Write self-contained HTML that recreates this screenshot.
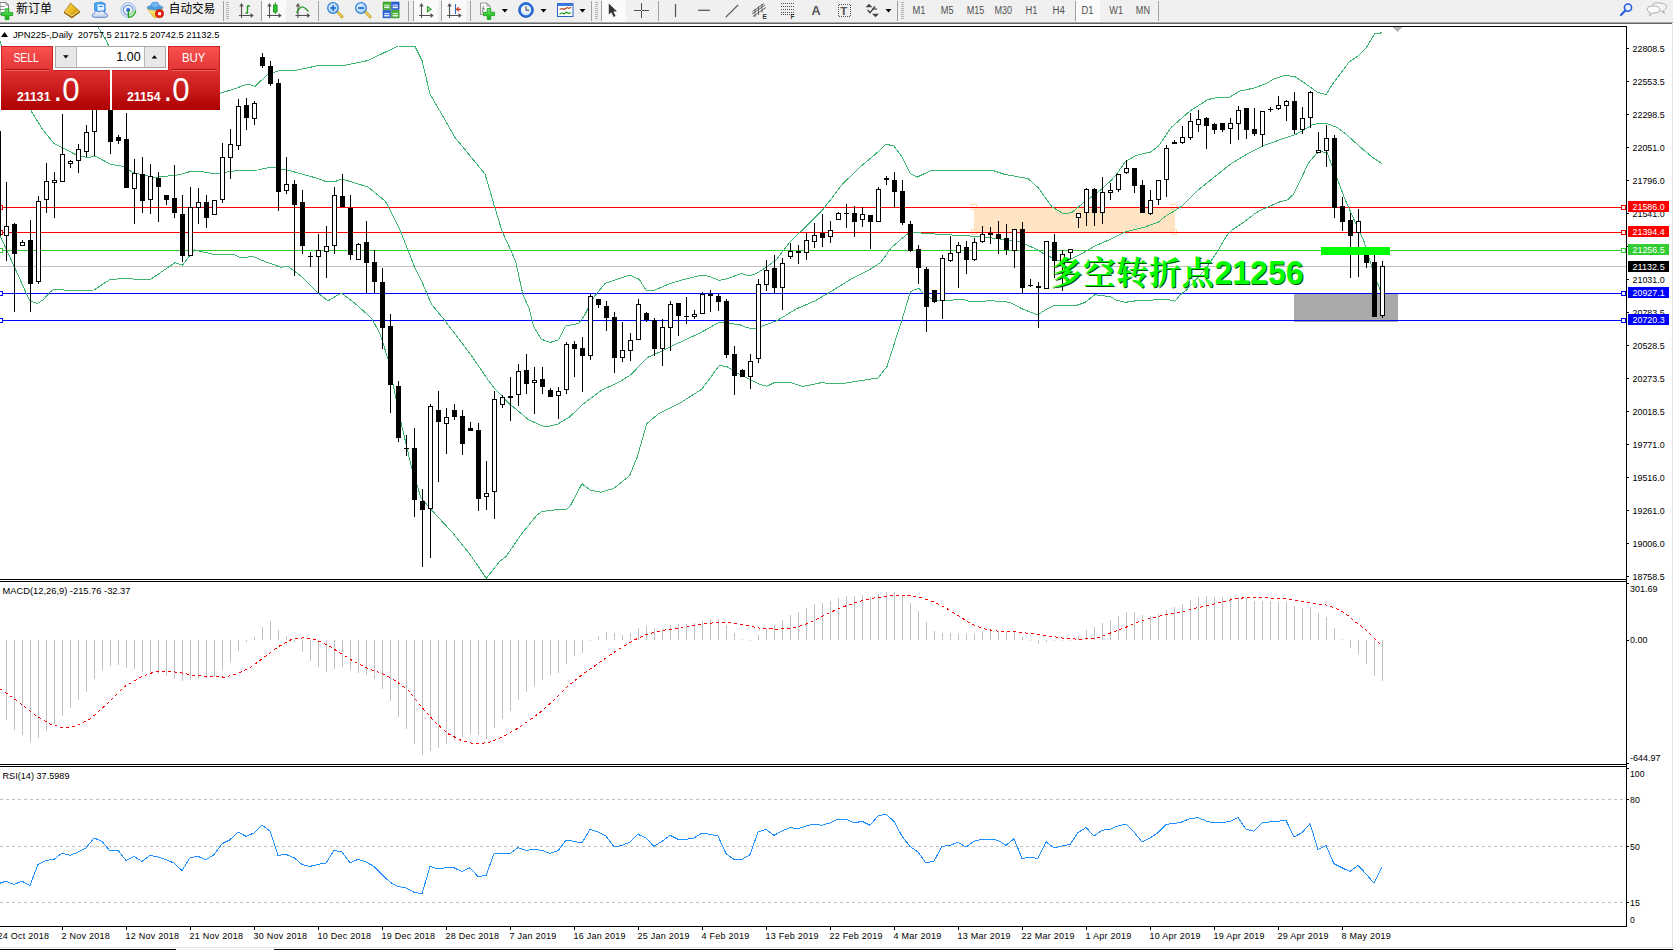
<!DOCTYPE html>
<html lang="zh"><head><meta charset="utf-8"><title>JPN225 Daily</title>
<style>html,body{margin:0;padding:0;background:#fff}body{width:1673px;height:950px;overflow:hidden;position:relative;font-family:"Liberation Sans","Noto Sans CJK SC",sans-serif}svg{position:absolute;left:0;top:0;display:block}text{font-family:"Liberation Sans","Noto Sans CJK SC",sans-serif;white-space:pre}.note{font-family:"Liberation Sans","Noto Serif CJK SC",serif;font-weight:bold}</style>
</head><body>
<svg width="1673" height="950" viewBox="0 0 1673 950">
<defs>
<linearGradient id="gTop" x1="0" y1="0" x2="0" y2="1"><stop offset="0" stop-color="#fa5252"/><stop offset="1" stop-color="#e23434"/></linearGradient>
<linearGradient id="gBot" x1="0" y1="0" x2="0" y2="1"><stop offset="0" stop-color="#e03232"/><stop offset="0.5" stop-color="#c81a1a"/><stop offset="1" stop-color="#ae0000"/></linearGradient>
<linearGradient id="gBtn" x1="0" y1="0" x2="0" y2="1"><stop offset="0" stop-color="#f4f4f4"/><stop offset="1" stop-color="#dcdcdc"/></linearGradient>
<clipPath id="cMain"><rect x="0" y="27" width="1626" height="552"/></clipPath>
<pattern id="chk" width="2" height="2" patternUnits="userSpaceOnUse"><rect width="2" height="2" fill="#f6f6f6"/><rect width="1" height="1" fill="#fff"/><rect x="1" y="1" width="1" height="1" fill="#fff"/></pattern>
</defs>
<rect x="0" y="0" width="1673" height="950" fill="#fff"/>
<g shape-rendering="crispEdges">
<rect x="974" y="207" width="201" height="26" fill="#FFE4C4"/>
<rect x="1294" y="293" width="104" height="29" fill="#A9A9A9"/>
<rect x="971.5" y="204.5" width="5" height="5" fill="none" stroke="#FFDAB0" stroke-width="1"/>
<rect x="971.5" y="229.5" width="5" height="5" fill="none" stroke="#FFDAB0" stroke-width="1"/>
<rect x="1171.5" y="204.5" width="5" height="5" fill="none" stroke="#FFDAB0" stroke-width="1"/>
<rect x="1171.5" y="229.5" width="5" height="5" fill="none" stroke="#FFDAB0" stroke-width="1"/>
<rect x="1073" y="220" width="2" height="2" fill="#fff"/>
<rect x="0" y="266" width="1626" height="1" fill="#C0C0C0"/>
<rect x="0" y="207" width="1626" height="1" fill="#FF0000"/>
<rect x="-2.5" y="205.5" width="5" height="4" fill="#fff" stroke="#FF0000" stroke-width="1"/>
<rect x="1621.5" y="205.5" width="4" height="4" fill="#fff" stroke="#FF0000" stroke-width="1"/>
<rect x="0" y="232" width="1626" height="1" fill="#FF0000"/>
<rect x="-2.5" y="230.5" width="5" height="4" fill="#fff" stroke="#FF0000" stroke-width="1"/>
<rect x="1621.5" y="230.5" width="4" height="4" fill="#fff" stroke="#FF0000" stroke-width="1"/>
<rect x="0" y="250" width="1626" height="1" fill="#32CD32"/>
<rect x="-2.5" y="248.5" width="5" height="4" fill="#fff" stroke="#32CD32" stroke-width="1"/>
<rect x="1621.5" y="248.5" width="4" height="4" fill="#fff" stroke="#32CD32" stroke-width="1"/>
<rect x="0" y="293" width="1626" height="1" fill="#0000FF"/>
<rect x="-2.5" y="291.5" width="5" height="4" fill="#fff" stroke="#0000FF" stroke-width="1"/>
<rect x="1621.5" y="291.5" width="4" height="4" fill="#fff" stroke="#0000FF" stroke-width="1"/>
<rect x="0" y="320" width="1626" height="1" fill="#0000FF"/>
<rect x="-2.5" y="318.5" width="5" height="4" fill="#fff" stroke="#0000FF" stroke-width="1"/>
<rect x="1621.5" y="318.5" width="4" height="4" fill="#fff" stroke="#0000FF" stroke-width="1"/>
<g clip-path="url(#cMain)">
<polyline points="98.0,27.0 106.0,40.0 115.0,60.0 130.0,85.0 150.0,100.0 175.0,102.0 200.0,98.0 221.0,93.0 234.0,89.0 248.0,84.0 255.0,86.5 268.0,74.0 278.0,71.0 295.0,70.5 321.0,65.0 341.0,66.0 368.0,60.5 398.0,46.0 415.0,46.5 422.0,60.5 430.0,94.0 445.0,120.0 455.0,137.5 485.0,174.0 495.0,208.0 502.0,231.0 515.5,261.0 523.0,295.0 529.0,308.0 533.6,326.5 541.0,339.0 550.0,342.5 558.6,339.8 565.5,326.2 578.7,323.4 584.4,315.8 593.9,296.9 605.3,283.2 618.5,278.8 629.9,275.1 639.4,279.4 646.0,290.2 654.5,290.2 669.7,283.6 684.9,279.2 701.9,275.1 709.5,276.4 719.0,280.4 726.6,278.8 741.7,273.5 749.3,276.0 756.9,273.2 764.5,268.4 776.0,260.0 790.0,242.0 806.5,226.0 823.0,209.5 842.0,184.7 858.5,168.3 875.0,154.6 886.0,144.2 894.0,146.0 902.3,157.4 910.5,173.8 917.4,177.1 929.7,171.0 951.6,170.2 992.0,170.2 1005.0,174.5 1028.0,178.5 1038.5,188.0 1052.0,207.0 1063.5,213.8 1071.5,212.7 1082.0,204.0 1097.0,193.0 1110.0,181.5 1115.8,175.3 1125.5,161.5 1136.0,155.5 1150.5,152.0 1158.5,146.0 1171.2,127.4 1176.6,122.7 1190.0,111.0 1207.5,99.7 1218.5,97.2 1229.0,97.5 1240.0,91.0 1254.4,88.0 1267.4,83.0 1272.3,79.6 1285.0,75.5 1294.6,76.5 1304.2,82.8 1318.0,92.6 1326.3,94.5 1332.0,85.0 1336.0,79.6 1349.0,62.0 1358.5,55.7 1366.4,47.7 1374.4,34.0 1382.4,32.7" fill="none" stroke="#3CB371" stroke-width="1"/>
<polyline points="0.0,41.6 10.0,64.0 20.0,87.0 32.0,112.4 43.0,130.0 54.0,143.5 62.0,147.5 77.4,155.5 87.0,157.5 96.0,156.5 110.5,164.2 123.8,166.5 133.0,172.8 155.0,177.5 180.0,174.7 191.0,171.2 200.0,171.2 214.0,173.8 234.0,171.0 257.7,170.0 271.0,167.2 288.0,170.2 314.6,177.6 326.0,181.5 335.0,181.6 342.0,179.0 368.0,187.0 385.0,201.0 388.0,205.8 400.0,230.0 415.0,268.0 421.0,280.0 431.8,304.8 443.2,318.5 458.4,338.3 471.6,356.0 487.9,379.6 493.7,387.4 508.5,403.2 512.6,406.3 528.8,420.0 542.6,426.0 546.8,426.7 557.5,424.2 569.7,417.0 582.0,404.8 601.5,390.2 620.0,381.7 631.0,374.5 647.5,357.5 664.2,350.0 673.5,345.2 683.1,340.9 701.0,332.5 719.2,322.2 727.0,323.0 740.0,324.8 745.5,327.2 753.0,329.0 764.5,325.3 776.0,321.0 784.2,316.3 795.6,309.3 814.7,301.0 831.0,291.5 850.3,279.5 869.5,269.6 880.4,262.7 891.4,247.7 902.3,238.1 910.5,231.8 924.2,233.4 951.6,235.0 979.0,236.5 999.0,238.8 1018.4,241.5 1034.0,248.0 1045.0,254.5 1058.0,260.5 1069.0,260.0 1080.0,254.5 1096.0,245.5 1110.0,239.5 1125.5,231.8 1145.0,226.9 1158.6,222.0 1166.3,215.5 1174.2,211.0 1182.6,205.7 1198.9,189.4 1215.2,176.3 1231.6,163.3 1247.9,153.5 1264.2,145.3 1280.5,139.6 1296.8,133.9 1306.6,128.2 1313.1,124.5 1321.3,123.3 1327.8,123.8 1337.6,127.7 1345.7,133.9 1362.0,148.6 1371.8,156.8 1382.0,163.8" fill="none" stroke="#3CB371" stroke-width="1"/>
<polyline points="0.0,236.0 6.7,250.0 16.7,272.0 29.8,301.0 37.6,303.5 43.5,299.5 50.0,292.2 54.2,289.2 66.0,290.2 77.0,290.4 93.9,290.0 110.5,279.2 127.0,278.7 150.0,279.8 175.0,262.6 182.4,265.2 194.3,249.8 214.2,254.6 234.3,254.6 241.0,258.0 252.7,256.3 264.4,261.3 281.2,267.3 287.9,266.3 301.3,276.4 318.0,293.1 328.0,300.8 341.4,293.1 354.8,303.2 371.5,318.2 380.0,333.7 388.0,359.0 399.3,415.0 411.4,467.0 421.0,497.9 432.0,510.5 452.5,532.7 470.9,555.5 486.2,578.4 500.0,561.0 505.6,557.0 522.5,532.7 537.0,515.0 542.0,511.5 558.6,509.5 566.3,509.5 570.0,506.3 582.0,483.7 590.0,490.0 601.0,492.2 613.7,488.4 629.5,475.8 637.3,456.8 646.8,423.7 657.9,414.2 680.0,403.1 702.1,388.9 719.4,365.3 727.3,366.8 740.0,374.7 752.6,381.0 760.0,384.5 767.0,386.2 774.0,382.8 790.5,382.6 803.0,386.5 821.0,382.7 840.0,384.0 855.0,381.5 878.0,378.0 887.0,366.5 894.4,343.3 901.0,323.0 910.5,291.5 918.7,288.2 924.2,294.2 935.1,301.0 951.6,300.2 962.5,299.1 969.0,301.5 992.6,300.8 1009.5,302.2 1023.5,309.5 1037.9,315.0 1045.0,310.2 1054.5,305.2 1077.0,305.2 1085.0,302.5 1094.8,294.7 1100.2,295.6 1110.0,296.4 1115.8,299.9 1125.5,302.3 1135.2,300.9 1154.7,299.9 1166.4,299.0 1175.0,301.2 1180.0,295.1 1186.2,290.2 1205.3,269.5 1218.0,250.4 1226.5,236.0 1231.6,230.2 1244.0,222.0 1254.4,213.9 1260.0,210.5 1269.1,206.5 1280.5,201.6 1287.5,199.8 1293.5,194.3 1300.0,181.2 1308.2,163.3 1316.4,153.5 1321.3,151.9 1327.0,152.2 1331.0,163.3 1337.6,179.6 1344.0,197.0 1353.9,219.2 1363.7,240.5 1372.4,268.9 1380.2,290.5" fill="none" stroke="#3CB371" stroke-width="1"/>
<rect x="-2" y="131" width="1" height="105" fill="#000"/>
<rect x="-4" y="131" width="5" height="105" fill="#000"/>
<rect x="6" y="182" width="1" height="79" fill="#000"/>
<rect x="4" y="226" width="5" height="10" fill="#000"/>
<rect x="5" y="227" width="3" height="8" fill="#fff"/>
<rect x="14" y="223" width="1" height="89" fill="#000"/>
<rect x="12" y="224" width="5" height="30" fill="#000"/>
<rect x="22" y="240" width="1" height="6" fill="#000"/>
<rect x="20" y="242" width="5" height="4" fill="#000"/>
<rect x="21" y="243" width="3" height="2" fill="#fff"/>
<rect x="30" y="220" width="1" height="92" fill="#000"/>
<rect x="28" y="240" width="5" height="44" fill="#000"/>
<rect x="38" y="196" width="1" height="88" fill="#000"/>
<rect x="36" y="201" width="5" height="81" fill="#000"/>
<rect x="37" y="202" width="3" height="79" fill="#fff"/>
<rect x="46" y="163" width="1" height="50" fill="#000"/>
<rect x="44" y="181" width="5" height="19" fill="#000"/>
<rect x="45" y="182" width="3" height="17" fill="#fff"/>
<rect x="54" y="172" width="1" height="46" fill="#000"/>
<rect x="52" y="180" width="5" height="3" fill="#000"/>
<rect x="53" y="181" width="3" height="1" fill="#fff"/>
<rect x="62" y="114" width="1" height="68" fill="#000"/>
<rect x="60" y="154" width="5" height="28" fill="#000"/>
<rect x="61" y="155" width="3" height="26" fill="#fff"/>
<rect x="70" y="160" width="1" height="8" fill="#000"/>
<rect x="68" y="161" width="5" height="3" fill="#000"/>
<rect x="69" y="162" width="3" height="1" fill="#fff"/>
<rect x="78" y="144" width="1" height="29" fill="#000"/>
<rect x="76" y="149" width="5" height="12" fill="#000"/>
<rect x="77" y="150" width="3" height="10" fill="#fff"/>
<rect x="86" y="125" width="1" height="32" fill="#000"/>
<rect x="84" y="132" width="5" height="20" fill="#000"/>
<rect x="85" y="133" width="3" height="18" fill="#fff"/>
<rect x="94" y="98" width="1" height="58" fill="#000"/>
<rect x="92" y="104" width="5" height="28" fill="#000"/>
<rect x="93" y="105" width="3" height="26" fill="#fff"/>
<rect x="102" y="84" width="1" height="24" fill="#000"/>
<rect x="100" y="88" width="5" height="16" fill="#000"/>
<rect x="101" y="89" width="3" height="14" fill="#fff"/>
<rect x="110" y="86" width="1" height="68" fill="#000"/>
<rect x="108" y="90" width="5" height="52" fill="#000"/>
<rect x="118" y="135" width="1" height="9" fill="#000"/>
<rect x="116" y="137" width="5" height="4" fill="#000"/>
<rect x="126" y="113" width="1" height="75" fill="#000"/>
<rect x="124" y="139" width="5" height="49" fill="#000"/>
<rect x="134" y="159" width="1" height="65" fill="#000"/>
<rect x="132" y="173" width="5" height="16" fill="#000"/>
<rect x="133" y="174" width="3" height="14" fill="#fff"/>
<rect x="142" y="157" width="1" height="56" fill="#000"/>
<rect x="140" y="174" width="5" height="27" fill="#000"/>
<rect x="150" y="164" width="1" height="50" fill="#000"/>
<rect x="148" y="176" width="5" height="24" fill="#000"/>
<rect x="149" y="177" width="3" height="22" fill="#fff"/>
<rect x="158" y="172" width="1" height="50" fill="#000"/>
<rect x="156" y="178" width="5" height="9" fill="#000"/>
<rect x="166" y="195" width="1" height="10" fill="#000"/>
<rect x="164" y="195" width="5" height="5" fill="#000"/>
<rect x="174" y="165" width="1" height="53" fill="#000"/>
<rect x="172" y="198" width="5" height="15" fill="#000"/>
<rect x="182" y="195" width="1" height="67" fill="#000"/>
<rect x="180" y="214" width="5" height="42" fill="#000"/>
<rect x="190" y="187" width="1" height="69" fill="#000"/>
<rect x="188" y="207" width="5" height="49" fill="#000"/>
<rect x="189" y="208" width="3" height="47" fill="#fff"/>
<rect x="198" y="188" width="1" height="36" fill="#000"/>
<rect x="196" y="202" width="5" height="6" fill="#000"/>
<rect x="197" y="203" width="3" height="4" fill="#fff"/>
<rect x="206" y="195" width="1" height="33" fill="#000"/>
<rect x="204" y="202" width="5" height="16" fill="#000"/>
<rect x="214" y="200" width="1" height="15" fill="#000"/>
<rect x="212" y="200" width="5" height="15" fill="#000"/>
<rect x="213" y="201" width="3" height="13" fill="#fff"/>
<rect x="222" y="143" width="1" height="60" fill="#000"/>
<rect x="220" y="157" width="5" height="43" fill="#000"/>
<rect x="221" y="158" width="3" height="41" fill="#fff"/>
<rect x="230" y="129" width="1" height="50" fill="#000"/>
<rect x="228" y="144" width="5" height="14" fill="#000"/>
<rect x="229" y="145" width="3" height="12" fill="#fff"/>
<rect x="238" y="99" width="1" height="51" fill="#000"/>
<rect x="236" y="106" width="5" height="40" fill="#000"/>
<rect x="237" y="107" width="3" height="38" fill="#fff"/>
<rect x="246" y="98" width="1" height="32" fill="#000"/>
<rect x="244" y="105" width="5" height="13" fill="#000"/>
<rect x="254" y="101" width="1" height="24" fill="#000"/>
<rect x="252" y="103" width="5" height="16" fill="#000"/>
<rect x="253" y="104" width="3" height="14" fill="#fff"/>
<rect x="262" y="53" width="1" height="15" fill="#000"/>
<rect x="260" y="57" width="5" height="9" fill="#000"/>
<rect x="270" y="61" width="1" height="25" fill="#000"/>
<rect x="268" y="66" width="5" height="18" fill="#000"/>
<rect x="278" y="79" width="1" height="132" fill="#000"/>
<rect x="276" y="83" width="5" height="109" fill="#000"/>
<rect x="286" y="157" width="1" height="37" fill="#000"/>
<rect x="284" y="184" width="5" height="7" fill="#000"/>
<rect x="285" y="185" width="3" height="5" fill="#fff"/>
<rect x="294" y="180" width="1" height="96" fill="#000"/>
<rect x="292" y="184" width="5" height="21" fill="#000"/>
<rect x="302" y="190" width="1" height="64" fill="#000"/>
<rect x="300" y="202" width="5" height="44" fill="#000"/>
<rect x="310" y="252" width="1" height="15" fill="#000"/>
<rect x="308" y="256" width="5" height="1" fill="#000"/>
<rect x="318" y="234" width="1" height="59" fill="#000"/>
<rect x="316" y="250" width="5" height="7" fill="#000"/>
<rect x="317" y="251" width="3" height="5" fill="#fff"/>
<rect x="326" y="226" width="1" height="52" fill="#000"/>
<rect x="324" y="246" width="5" height="6" fill="#000"/>
<rect x="325" y="247" width="3" height="4" fill="#fff"/>
<rect x="334" y="187" width="1" height="67" fill="#000"/>
<rect x="332" y="195" width="5" height="51" fill="#000"/>
<rect x="333" y="196" width="3" height="49" fill="#fff"/>
<rect x="342" y="174" width="1" height="33" fill="#000"/>
<rect x="340" y="196" width="5" height="11" fill="#000"/>
<rect x="350" y="195" width="1" height="65" fill="#000"/>
<rect x="348" y="208" width="5" height="47" fill="#000"/>
<rect x="358" y="243" width="1" height="17" fill="#000"/>
<rect x="356" y="244" width="5" height="16" fill="#000"/>
<rect x="357" y="245" width="3" height="14" fill="#fff"/>
<rect x="366" y="221" width="1" height="72" fill="#000"/>
<rect x="364" y="242" width="5" height="21" fill="#000"/>
<rect x="374" y="250" width="1" height="43" fill="#000"/>
<rect x="372" y="262" width="5" height="20" fill="#000"/>
<rect x="382" y="268" width="1" height="81" fill="#000"/>
<rect x="380" y="282" width="5" height="46" fill="#000"/>
<rect x="390" y="314" width="1" height="99" fill="#000"/>
<rect x="388" y="326" width="5" height="59" fill="#000"/>
<rect x="398" y="381" width="1" height="61" fill="#000"/>
<rect x="396" y="386" width="5" height="52" fill="#000"/>
<rect x="406" y="435" width="1" height="21" fill="#000"/>
<rect x="404" y="448" width="5" height="1" fill="#000"/>
<rect x="414" y="428" width="1" height="89" fill="#000"/>
<rect x="412" y="448" width="5" height="52" fill="#000"/>
<rect x="422" y="489" width="1" height="78" fill="#000"/>
<rect x="420" y="501" width="5" height="9" fill="#000"/>
<rect x="430" y="404" width="1" height="154" fill="#000"/>
<rect x="428" y="406" width="5" height="103" fill="#000"/>
<rect x="429" y="407" width="3" height="101" fill="#fff"/>
<rect x="438" y="391" width="1" height="91" fill="#000"/>
<rect x="436" y="410" width="5" height="12" fill="#000"/>
<rect x="446" y="408" width="1" height="46" fill="#000"/>
<rect x="444" y="417" width="5" height="7" fill="#000"/>
<rect x="445" y="418" width="3" height="5" fill="#fff"/>
<rect x="454" y="404" width="1" height="16" fill="#000"/>
<rect x="452" y="410" width="5" height="7" fill="#000"/>
<rect x="462" y="410" width="1" height="45" fill="#000"/>
<rect x="460" y="416" width="5" height="28" fill="#000"/>
<rect x="470" y="422" width="1" height="9" fill="#000"/>
<rect x="468" y="428" width="5" height="3" fill="#000"/>
<rect x="478" y="423" width="1" height="88" fill="#000"/>
<rect x="476" y="430" width="5" height="69" fill="#000"/>
<rect x="486" y="461" width="1" height="49" fill="#000"/>
<rect x="484" y="493" width="5" height="4" fill="#000"/>
<rect x="485" y="494" width="3" height="2" fill="#fff"/>
<rect x="494" y="391" width="1" height="128" fill="#000"/>
<rect x="492" y="399" width="5" height="93" fill="#000"/>
<rect x="493" y="400" width="3" height="91" fill="#fff"/>
<rect x="502" y="395" width="1" height="13" fill="#000"/>
<rect x="500" y="397" width="5" height="8" fill="#000"/>
<rect x="501" y="398" width="3" height="6" fill="#fff"/>
<rect x="510" y="377" width="1" height="44" fill="#000"/>
<rect x="508" y="396" width="5" height="2" fill="#000"/>
<rect x="518" y="364" width="1" height="42" fill="#000"/>
<rect x="516" y="371" width="5" height="24" fill="#000"/>
<rect x="517" y="372" width="3" height="22" fill="#fff"/>
<rect x="526" y="354" width="1" height="40" fill="#000"/>
<rect x="524" y="370" width="5" height="14" fill="#000"/>
<rect x="534" y="367" width="1" height="47" fill="#000"/>
<rect x="532" y="380" width="5" height="3" fill="#000"/>
<rect x="533" y="381" width="3" height="1" fill="#fff"/>
<rect x="542" y="367" width="1" height="27" fill="#000"/>
<rect x="540" y="379" width="5" height="8" fill="#000"/>
<rect x="550" y="388" width="1" height="9" fill="#000"/>
<rect x="548" y="390" width="5" height="7" fill="#000"/>
<rect x="558" y="387" width="1" height="32" fill="#000"/>
<rect x="556" y="391" width="5" height="5" fill="#000"/>
<rect x="557" y="392" width="3" height="3" fill="#fff"/>
<rect x="566" y="342" width="1" height="52" fill="#000"/>
<rect x="564" y="344" width="5" height="46" fill="#000"/>
<rect x="565" y="345" width="3" height="44" fill="#fff"/>
<rect x="574" y="341" width="1" height="36" fill="#000"/>
<rect x="572" y="344" width="5" height="5" fill="#000"/>
<rect x="582" y="337" width="1" height="55" fill="#000"/>
<rect x="580" y="348" width="5" height="8" fill="#000"/>
<rect x="590" y="294" width="1" height="66" fill="#000"/>
<rect x="588" y="296" width="5" height="60" fill="#000"/>
<rect x="589" y="297" width="3" height="58" fill="#fff"/>
<rect x="598" y="299" width="1" height="9" fill="#000"/>
<rect x="596" y="299" width="5" height="6" fill="#000"/>
<rect x="606" y="301" width="1" height="30" fill="#000"/>
<rect x="604" y="306" width="5" height="12" fill="#000"/>
<rect x="614" y="312" width="1" height="61" fill="#000"/>
<rect x="612" y="317" width="5" height="41" fill="#000"/>
<rect x="622" y="322" width="1" height="40" fill="#000"/>
<rect x="620" y="350" width="5" height="8" fill="#000"/>
<rect x="621" y="351" width="3" height="6" fill="#fff"/>
<rect x="630" y="333" width="1" height="28" fill="#000"/>
<rect x="628" y="340" width="5" height="11" fill="#000"/>
<rect x="629" y="341" width="3" height="9" fill="#fff"/>
<rect x="638" y="299" width="1" height="41" fill="#000"/>
<rect x="636" y="304" width="5" height="36" fill="#000"/>
<rect x="637" y="305" width="3" height="34" fill="#fff"/>
<rect x="646" y="312" width="1" height="10" fill="#000"/>
<rect x="644" y="313" width="5" height="7" fill="#000"/>
<rect x="654" y="318" width="1" height="38" fill="#000"/>
<rect x="652" y="320" width="5" height="29" fill="#000"/>
<rect x="662" y="319" width="1" height="47" fill="#000"/>
<rect x="660" y="327" width="5" height="22" fill="#000"/>
<rect x="661" y="328" width="3" height="20" fill="#fff"/>
<rect x="670" y="301" width="1" height="50" fill="#000"/>
<rect x="668" y="304" width="5" height="24" fill="#000"/>
<rect x="669" y="305" width="3" height="22" fill="#fff"/>
<rect x="678" y="303" width="1" height="33" fill="#000"/>
<rect x="676" y="303" width="5" height="13" fill="#000"/>
<rect x="686" y="297" width="1" height="27" fill="#000"/>
<rect x="684" y="316" width="5" height="1" fill="#000"/>
<rect x="694" y="310" width="1" height="9" fill="#000"/>
<rect x="692" y="314" width="5" height="3" fill="#000"/>
<rect x="693" y="315" width="3" height="1" fill="#fff"/>
<rect x="702" y="292" width="1" height="22" fill="#000"/>
<rect x="700" y="294" width="5" height="20" fill="#000"/>
<rect x="701" y="295" width="3" height="18" fill="#fff"/>
<rect x="710" y="290" width="1" height="22" fill="#000"/>
<rect x="708" y="294" width="5" height="2" fill="#000"/>
<rect x="718" y="294" width="1" height="17" fill="#000"/>
<rect x="716" y="296" width="5" height="6" fill="#000"/>
<rect x="726" y="299" width="1" height="59" fill="#000"/>
<rect x="724" y="301" width="5" height="54" fill="#000"/>
<rect x="734" y="346" width="1" height="49" fill="#000"/>
<rect x="732" y="354" width="5" height="22" fill="#000"/>
<rect x="742" y="369" width="1" height="8" fill="#000"/>
<rect x="740" y="370" width="5" height="7" fill="#000"/>
<rect x="750" y="354" width="1" height="35" fill="#000"/>
<rect x="748" y="361" width="5" height="16" fill="#000"/>
<rect x="749" y="362" width="3" height="14" fill="#fff"/>
<rect x="758" y="279" width="1" height="84" fill="#000"/>
<rect x="756" y="284" width="5" height="75" fill="#000"/>
<rect x="757" y="285" width="3" height="73" fill="#fff"/>
<rect x="766" y="260" width="1" height="31" fill="#000"/>
<rect x="764" y="270" width="5" height="15" fill="#000"/>
<rect x="765" y="271" width="3" height="13" fill="#fff"/>
<rect x="774" y="255" width="1" height="39" fill="#000"/>
<rect x="772" y="268" width="5" height="20" fill="#000"/>
<rect x="782" y="258" width="1" height="52" fill="#000"/>
<rect x="780" y="263" width="5" height="25" fill="#000"/>
<rect x="781" y="264" width="3" height="23" fill="#fff"/>
<rect x="790" y="243" width="1" height="16" fill="#000"/>
<rect x="788" y="251" width="5" height="6" fill="#000"/>
<rect x="789" y="252" width="3" height="4" fill="#fff"/>
<rect x="798" y="245" width="1" height="19" fill="#000"/>
<rect x="796" y="251" width="5" height="2" fill="#000"/>
<rect x="806" y="233" width="1" height="27" fill="#000"/>
<rect x="804" y="240" width="5" height="13" fill="#000"/>
<rect x="805" y="241" width="3" height="11" fill="#fff"/>
<rect x="814" y="223" width="1" height="25" fill="#000"/>
<rect x="812" y="235" width="5" height="7" fill="#000"/>
<rect x="813" y="236" width="3" height="5" fill="#fff"/>
<rect x="822" y="214" width="1" height="33" fill="#000"/>
<rect x="820" y="233" width="5" height="5" fill="#000"/>
<rect x="830" y="221" width="1" height="22" fill="#000"/>
<rect x="828" y="230" width="5" height="7" fill="#000"/>
<rect x="829" y="231" width="3" height="5" fill="#fff"/>
<rect x="838" y="212" width="1" height="8" fill="#000"/>
<rect x="836" y="213" width="5" height="7" fill="#000"/>
<rect x="837" y="214" width="3" height="5" fill="#fff"/>
<rect x="846" y="204" width="1" height="24" fill="#000"/>
<rect x="844" y="213" width="5" height="1" fill="#000"/>
<rect x="854" y="206" width="1" height="31" fill="#000"/>
<rect x="852" y="213" width="5" height="9" fill="#000"/>
<rect x="862" y="207" width="1" height="20" fill="#000"/>
<rect x="860" y="214" width="5" height="6" fill="#000"/>
<rect x="861" y="215" width="3" height="4" fill="#fff"/>
<rect x="870" y="215" width="1" height="34" fill="#000"/>
<rect x="868" y="215" width="5" height="7" fill="#000"/>
<rect x="878" y="187" width="1" height="35" fill="#000"/>
<rect x="876" y="189" width="5" height="33" fill="#000"/>
<rect x="877" y="190" width="3" height="31" fill="#fff"/>
<rect x="886" y="176" width="1" height="9" fill="#000"/>
<rect x="884" y="178" width="5" height="2" fill="#000"/>
<rect x="894" y="172" width="1" height="36" fill="#000"/>
<rect x="892" y="180" width="5" height="12" fill="#000"/>
<rect x="902" y="180" width="1" height="45" fill="#000"/>
<rect x="900" y="191" width="5" height="32" fill="#000"/>
<rect x="910" y="221" width="1" height="31" fill="#000"/>
<rect x="908" y="224" width="5" height="27" fill="#000"/>
<rect x="918" y="245" width="1" height="39" fill="#000"/>
<rect x="916" y="249" width="5" height="19" fill="#000"/>
<rect x="926" y="267" width="1" height="65" fill="#000"/>
<rect x="924" y="269" width="5" height="38" fill="#000"/>
<rect x="934" y="290" width="1" height="13" fill="#000"/>
<rect x="932" y="290" width="5" height="12" fill="#000"/>
<rect x="942" y="255" width="1" height="64" fill="#000"/>
<rect x="940" y="258" width="5" height="43" fill="#000"/>
<rect x="941" y="259" width="3" height="41" fill="#fff"/>
<rect x="950" y="236" width="1" height="26" fill="#000"/>
<rect x="948" y="253" width="5" height="8" fill="#000"/>
<rect x="949" y="254" width="3" height="6" fill="#fff"/>
<rect x="958" y="242" width="1" height="46" fill="#000"/>
<rect x="956" y="245" width="5" height="8" fill="#000"/>
<rect x="957" y="246" width="3" height="6" fill="#fff"/>
<rect x="966" y="241" width="1" height="33" fill="#000"/>
<rect x="964" y="247" width="5" height="13" fill="#000"/>
<rect x="974" y="238" width="1" height="23" fill="#000"/>
<rect x="972" y="242" width="5" height="18" fill="#000"/>
<rect x="973" y="243" width="3" height="16" fill="#fff"/>
<rect x="982" y="226" width="1" height="17" fill="#000"/>
<rect x="980" y="234" width="5" height="8" fill="#000"/>
<rect x="981" y="235" width="3" height="6" fill="#fff"/>
<rect x="990" y="227" width="1" height="17" fill="#000"/>
<rect x="988" y="233" width="5" height="2" fill="#000"/>
<rect x="998" y="221" width="1" height="33" fill="#000"/>
<rect x="996" y="234" width="5" height="5" fill="#000"/>
<rect x="1006" y="224" width="1" height="31" fill="#000"/>
<rect x="1004" y="238" width="5" height="12" fill="#000"/>
<rect x="1014" y="229" width="1" height="39" fill="#000"/>
<rect x="1012" y="229" width="5" height="22" fill="#000"/>
<rect x="1013" y="230" width="3" height="20" fill="#fff"/>
<rect x="1022" y="222" width="1" height="72" fill="#000"/>
<rect x="1020" y="229" width="5" height="59" fill="#000"/>
<rect x="1030" y="279" width="1" height="8" fill="#000"/>
<rect x="1028" y="285" width="5" height="1" fill="#000"/>
<rect x="1038" y="282" width="1" height="46" fill="#000"/>
<rect x="1036" y="286" width="5" height="2" fill="#000"/>
<rect x="1046" y="241" width="1" height="48" fill="#000"/>
<rect x="1044" y="241" width="5" height="48" fill="#000"/>
<rect x="1045" y="242" width="3" height="46" fill="#fff"/>
<rect x="1054" y="234" width="1" height="44" fill="#000"/>
<rect x="1052" y="242" width="5" height="19" fill="#000"/>
<rect x="1062" y="250" width="1" height="41" fill="#000"/>
<rect x="1060" y="254" width="5" height="11" fill="#000"/>
<rect x="1061" y="255" width="3" height="9" fill="#fff"/>
<rect x="1070" y="249" width="1" height="10" fill="#000"/>
<rect x="1068" y="249" width="5" height="4" fill="#000"/>
<rect x="1069" y="250" width="3" height="2" fill="#fff"/>
<rect x="1078" y="213" width="1" height="15" fill="#000"/>
<rect x="1076" y="213" width="5" height="5" fill="#000"/>
<rect x="1077" y="214" width="3" height="3" fill="#fff"/>
<rect x="1086" y="188" width="1" height="38" fill="#000"/>
<rect x="1084" y="189" width="5" height="24" fill="#000"/>
<rect x="1085" y="190" width="3" height="22" fill="#fff"/>
<rect x="1094" y="188" width="1" height="38" fill="#000"/>
<rect x="1092" y="189" width="5" height="24" fill="#000"/>
<rect x="1102" y="177" width="1" height="47" fill="#000"/>
<rect x="1100" y="192" width="5" height="21" fill="#000"/>
<rect x="1101" y="193" width="3" height="19" fill="#fff"/>
<rect x="1110" y="183" width="1" height="17" fill="#000"/>
<rect x="1108" y="190" width="5" height="3" fill="#000"/>
<rect x="1109" y="191" width="3" height="1" fill="#fff"/>
<rect x="1118" y="174" width="1" height="18" fill="#000"/>
<rect x="1116" y="174" width="5" height="16" fill="#000"/>
<rect x="1117" y="175" width="3" height="14" fill="#fff"/>
<rect x="1126" y="160" width="1" height="14" fill="#000"/>
<rect x="1124" y="168" width="5" height="5" fill="#000"/>
<rect x="1125" y="169" width="3" height="3" fill="#fff"/>
<rect x="1134" y="168" width="1" height="25" fill="#000"/>
<rect x="1132" y="168" width="5" height="18" fill="#000"/>
<rect x="1142" y="180" width="1" height="33" fill="#000"/>
<rect x="1140" y="185" width="5" height="28" fill="#000"/>
<rect x="1150" y="190" width="1" height="25" fill="#000"/>
<rect x="1148" y="200" width="5" height="14" fill="#000"/>
<rect x="1149" y="201" width="3" height="12" fill="#fff"/>
<rect x="1158" y="180" width="1" height="25" fill="#000"/>
<rect x="1156" y="180" width="5" height="20" fill="#000"/>
<rect x="1157" y="181" width="3" height="18" fill="#fff"/>
<rect x="1166" y="145" width="1" height="52" fill="#000"/>
<rect x="1164" y="148" width="5" height="32" fill="#000"/>
<rect x="1165" y="149" width="3" height="30" fill="#fff"/>
<rect x="1174" y="140" width="1" height="4" fill="#000"/>
<rect x="1172" y="142" width="5" height="2" fill="#000"/>
<rect x="1182" y="126" width="1" height="18" fill="#000"/>
<rect x="1180" y="137" width="5" height="6" fill="#000"/>
<rect x="1181" y="138" width="3" height="4" fill="#fff"/>
<rect x="1190" y="113" width="1" height="27" fill="#000"/>
<rect x="1188" y="121" width="5" height="17" fill="#000"/>
<rect x="1189" y="122" width="3" height="15" fill="#fff"/>
<rect x="1198" y="110" width="1" height="22" fill="#000"/>
<rect x="1196" y="119" width="5" height="6" fill="#000"/>
<rect x="1197" y="120" width="3" height="4" fill="#fff"/>
<rect x="1206" y="117" width="1" height="32" fill="#000"/>
<rect x="1204" y="118" width="5" height="8" fill="#000"/>
<rect x="1214" y="123" width="1" height="11" fill="#000"/>
<rect x="1212" y="124" width="5" height="6" fill="#000"/>
<rect x="1222" y="123" width="1" height="9" fill="#000"/>
<rect x="1220" y="123" width="5" height="7" fill="#000"/>
<rect x="1230" y="118" width="1" height="26" fill="#000"/>
<rect x="1228" y="123" width="5" height="6" fill="#000"/>
<rect x="1229" y="124" width="3" height="4" fill="#fff"/>
<rect x="1238" y="106" width="1" height="34" fill="#000"/>
<rect x="1236" y="110" width="5" height="14" fill="#000"/>
<rect x="1237" y="111" width="3" height="12" fill="#fff"/>
<rect x="1246" y="108" width="1" height="31" fill="#000"/>
<rect x="1244" y="108" width="5" height="22" fill="#000"/>
<rect x="1254" y="108" width="1" height="28" fill="#000"/>
<rect x="1252" y="129" width="5" height="5" fill="#000"/>
<rect x="1262" y="111" width="1" height="36" fill="#000"/>
<rect x="1260" y="111" width="5" height="24" fill="#000"/>
<rect x="1261" y="112" width="3" height="22" fill="#fff"/>
<rect x="1270" y="107" width="1" height="5" fill="#000"/>
<rect x="1268" y="109" width="5" height="1" fill="#000"/>
<rect x="1278" y="96" width="1" height="14" fill="#000"/>
<rect x="1276" y="105" width="5" height="4" fill="#000"/>
<rect x="1277" y="106" width="3" height="2" fill="#fff"/>
<rect x="1286" y="100" width="1" height="21" fill="#000"/>
<rect x="1284" y="101" width="5" height="5" fill="#000"/>
<rect x="1285" y="102" width="3" height="3" fill="#fff"/>
<rect x="1294" y="92" width="1" height="42" fill="#000"/>
<rect x="1292" y="101" width="5" height="29" fill="#000"/>
<rect x="1302" y="107" width="1" height="27" fill="#000"/>
<rect x="1300" y="118" width="5" height="12" fill="#000"/>
<rect x="1301" y="119" width="3" height="10" fill="#fff"/>
<rect x="1310" y="91" width="1" height="37" fill="#000"/>
<rect x="1308" y="92" width="5" height="26" fill="#000"/>
<rect x="1309" y="93" width="3" height="24" fill="#fff"/>
<rect x="1318" y="132" width="1" height="21" fill="#000"/>
<rect x="1316" y="150" width="5" height="3" fill="#000"/>
<rect x="1317" y="151" width="3" height="1" fill="#fff"/>
<rect x="1326" y="125" width="1" height="42" fill="#000"/>
<rect x="1324" y="138" width="5" height="13" fill="#000"/>
<rect x="1325" y="139" width="3" height="11" fill="#fff"/>
<rect x="1334" y="135" width="1" height="83" fill="#000"/>
<rect x="1332" y="138" width="5" height="70" fill="#000"/>
<rect x="1342" y="197" width="1" height="34" fill="#000"/>
<rect x="1340" y="206" width="5" height="16" fill="#000"/>
<rect x="1350" y="213" width="1" height="65" fill="#000"/>
<rect x="1348" y="220" width="5" height="16" fill="#000"/>
<rect x="1358" y="209" width="1" height="68" fill="#000"/>
<rect x="1356" y="221" width="5" height="12" fill="#000"/>
<rect x="1357" y="222" width="3" height="10" fill="#fff"/>
<rect x="1366" y="251" width="1" height="17" fill="#000"/>
<rect x="1364" y="253" width="5" height="10" fill="#000"/>
<rect x="1374" y="253" width="1" height="64" fill="#000"/>
<rect x="1372" y="262" width="5" height="55" fill="#000"/>
<rect x="1382" y="261" width="1" height="57" fill="#000"/>
<rect x="1380" y="266" width="5" height="50" fill="#000"/>
<rect x="1381" y="267" width="3" height="48" fill="#fff"/>
</g>
<rect x="1321" y="247" width="69" height="8" fill="#00FF00"/>
<polygon points="1392,27 1402,27 1397,32" fill="#B4B4B4"/>
<rect x="6" y="640" width="1" height="80" fill="#C0C0C0"/>
<rect x="14" y="640" width="1" height="90" fill="#C0C0C0"/>
<rect x="22" y="640" width="1" height="95" fill="#C0C0C0"/>
<rect x="30" y="640" width="1" height="102" fill="#C0C0C0"/>
<rect x="38" y="640" width="1" height="98" fill="#C0C0C0"/>
<rect x="46" y="640" width="1" height="91" fill="#C0C0C0"/>
<rect x="54" y="640" width="1" height="84" fill="#C0C0C0"/>
<rect x="62" y="640" width="1" height="76" fill="#C0C0C0"/>
<rect x="70" y="640" width="1" height="68" fill="#C0C0C0"/>
<rect x="78" y="640" width="1" height="60" fill="#C0C0C0"/>
<rect x="86" y="640" width="1" height="52" fill="#C0C0C0"/>
<rect x="94" y="640" width="1" height="39" fill="#C0C0C0"/>
<rect x="102" y="640" width="1" height="30" fill="#C0C0C0"/>
<rect x="110" y="640" width="1" height="26" fill="#C0C0C0"/>
<rect x="118" y="640" width="1" height="25" fill="#C0C0C0"/>
<rect x="126" y="640" width="1" height="28" fill="#C0C0C0"/>
<rect x="134" y="640" width="1" height="29" fill="#C0C0C0"/>
<rect x="142" y="640" width="1" height="32" fill="#C0C0C0"/>
<rect x="150" y="640" width="1" height="32" fill="#C0C0C0"/>
<rect x="158" y="640" width="1" height="34" fill="#C0C0C0"/>
<rect x="166" y="640" width="1" height="36" fill="#C0C0C0"/>
<rect x="174" y="640" width="1" height="39" fill="#C0C0C0"/>
<rect x="182" y="640" width="1" height="41" fill="#C0C0C0"/>
<rect x="190" y="640" width="1" height="40" fill="#C0C0C0"/>
<rect x="198" y="640" width="1" height="39" fill="#C0C0C0"/>
<rect x="206" y="640" width="1" height="38" fill="#C0C0C0"/>
<rect x="214" y="640" width="1" height="37" fill="#C0C0C0"/>
<rect x="222" y="640" width="1" height="30" fill="#C0C0C0"/>
<rect x="230" y="640" width="1" height="22" fill="#C0C0C0"/>
<rect x="238" y="640" width="1" height="11" fill="#C0C0C0"/>
<rect x="246" y="640" width="1" height="2" fill="#C0C0C0"/>
<rect x="254" y="637" width="1" height="3" fill="#C0C0C0"/>
<rect x="262" y="627" width="1" height="13" fill="#C0C0C0"/>
<rect x="270" y="621" width="1" height="19" fill="#C0C0C0"/>
<rect x="278" y="630" width="1" height="10" fill="#C0C0C0"/>
<rect x="286" y="636" width="1" height="4" fill="#C0C0C0"/>
<rect x="294" y="640" width="1" height="2" fill="#C0C0C0"/>
<rect x="302" y="640" width="1" height="12" fill="#C0C0C0"/>
<rect x="310" y="640" width="1" height="21" fill="#C0C0C0"/>
<rect x="318" y="640" width="1" height="27" fill="#C0C0C0"/>
<rect x="326" y="640" width="1" height="32" fill="#C0C0C0"/>
<rect x="334" y="640" width="1" height="29" fill="#C0C0C0"/>
<rect x="342" y="640" width="1" height="27" fill="#C0C0C0"/>
<rect x="350" y="640" width="1" height="30" fill="#C0C0C0"/>
<rect x="358" y="640" width="1" height="33" fill="#C0C0C0"/>
<rect x="366" y="640" width="1" height="35" fill="#C0C0C0"/>
<rect x="374" y="640" width="1" height="39" fill="#C0C0C0"/>
<rect x="382" y="640" width="1" height="49" fill="#C0C0C0"/>
<rect x="390" y="640" width="1" height="61" fill="#C0C0C0"/>
<rect x="398" y="640" width="1" height="77" fill="#C0C0C0"/>
<rect x="406" y="640" width="1" height="89" fill="#C0C0C0"/>
<rect x="414" y="640" width="1" height="104" fill="#C0C0C0"/>
<rect x="422" y="640" width="1" height="115" fill="#C0C0C0"/>
<rect x="430" y="640" width="1" height="111" fill="#C0C0C0"/>
<rect x="438" y="640" width="1" height="108" fill="#C0C0C0"/>
<rect x="446" y="640" width="1" height="104" fill="#C0C0C0"/>
<rect x="454" y="640" width="1" height="100" fill="#C0C0C0"/>
<rect x="462" y="640" width="1" height="97" fill="#C0C0C0"/>
<rect x="470" y="640" width="1" height="94" fill="#C0C0C0"/>
<rect x="478" y="640" width="1" height="95" fill="#C0C0C0"/>
<rect x="486" y="640" width="1" height="99" fill="#C0C0C0"/>
<rect x="494" y="640" width="1" height="88" fill="#C0C0C0"/>
<rect x="502" y="640" width="1" height="79" fill="#C0C0C0"/>
<rect x="510" y="640" width="1" height="71" fill="#C0C0C0"/>
<rect x="518" y="640" width="1" height="60" fill="#C0C0C0"/>
<rect x="526" y="640" width="1" height="52" fill="#C0C0C0"/>
<rect x="534" y="640" width="1" height="46" fill="#C0C0C0"/>
<rect x="542" y="640" width="1" height="40" fill="#C0C0C0"/>
<rect x="550" y="640" width="1" height="35" fill="#C0C0C0"/>
<rect x="558" y="640" width="1" height="33" fill="#C0C0C0"/>
<rect x="566" y="640" width="1" height="24" fill="#C0C0C0"/>
<rect x="574" y="640" width="1" height="16" fill="#C0C0C0"/>
<rect x="582" y="640" width="1" height="13" fill="#C0C0C0"/>
<rect x="590" y="640" width="1" height="1" fill="#C0C0C0"/>
<rect x="598" y="636" width="1" height="4" fill="#C0C0C0"/>
<rect x="606" y="632" width="1" height="8" fill="#C0C0C0"/>
<rect x="614" y="633" width="1" height="7" fill="#C0C0C0"/>
<rect x="622" y="635" width="1" height="5" fill="#C0C0C0"/>
<rect x="630" y="633" width="1" height="7" fill="#C0C0C0"/>
<rect x="638" y="628" width="1" height="12" fill="#C0C0C0"/>
<rect x="646" y="626" width="1" height="14" fill="#C0C0C0"/>
<rect x="654" y="628" width="1" height="12" fill="#C0C0C0"/>
<rect x="662" y="629" width="1" height="11" fill="#C0C0C0"/>
<rect x="670" y="625" width="1" height="15" fill="#C0C0C0"/>
<rect x="678" y="624" width="1" height="16" fill="#C0C0C0"/>
<rect x="686" y="624" width="1" height="16" fill="#C0C0C0"/>
<rect x="694" y="623" width="1" height="17" fill="#C0C0C0"/>
<rect x="702" y="621" width="1" height="19" fill="#C0C0C0"/>
<rect x="710" y="619" width="1" height="21" fill="#C0C0C0"/>
<rect x="718" y="619" width="1" height="21" fill="#C0C0C0"/>
<rect x="726" y="625" width="1" height="15" fill="#C0C0C0"/>
<rect x="734" y="633" width="1" height="7" fill="#C0C0C0"/>
<rect x="742" y="639" width="1" height="1" fill="#C0C0C0"/>
<rect x="750" y="640" width="1" height="1" fill="#C0C0C0"/>
<rect x="758" y="635" width="1" height="5" fill="#C0C0C0"/>
<rect x="766" y="629" width="1" height="11" fill="#C0C0C0"/>
<rect x="774" y="625" width="1" height="15" fill="#C0C0C0"/>
<rect x="782" y="620" width="1" height="20" fill="#C0C0C0"/>
<rect x="790" y="615" width="1" height="25" fill="#C0C0C0"/>
<rect x="798" y="612" width="1" height="28" fill="#C0C0C0"/>
<rect x="806" y="608" width="1" height="32" fill="#C0C0C0"/>
<rect x="814" y="604" width="1" height="36" fill="#C0C0C0"/>
<rect x="822" y="603" width="1" height="37" fill="#C0C0C0"/>
<rect x="830" y="601" width="1" height="39" fill="#C0C0C0"/>
<rect x="838" y="598" width="1" height="42" fill="#C0C0C0"/>
<rect x="846" y="596" width="1" height="44" fill="#C0C0C0"/>
<rect x="854" y="596" width="1" height="44" fill="#C0C0C0"/>
<rect x="862" y="595" width="1" height="45" fill="#C0C0C0"/>
<rect x="870" y="597" width="1" height="43" fill="#C0C0C0"/>
<rect x="878" y="594" width="1" height="46" fill="#C0C0C0"/>
<rect x="886" y="592" width="1" height="48" fill="#C0C0C0"/>
<rect x="894" y="592" width="1" height="48" fill="#C0C0C0"/>
<rect x="902" y="596" width="1" height="44" fill="#C0C0C0"/>
<rect x="910" y="603" width="1" height="37" fill="#C0C0C0"/>
<rect x="918" y="611" width="1" height="29" fill="#C0C0C0"/>
<rect x="926" y="622" width="1" height="18" fill="#C0C0C0"/>
<rect x="934" y="631" width="1" height="9" fill="#C0C0C0"/>
<rect x="942" y="633" width="1" height="7" fill="#C0C0C0"/>
<rect x="950" y="633" width="1" height="7" fill="#C0C0C0"/>
<rect x="958" y="634" width="1" height="6" fill="#C0C0C0"/>
<rect x="966" y="634" width="1" height="6" fill="#C0C0C0"/>
<rect x="974" y="634" width="1" height="6" fill="#C0C0C0"/>
<rect x="982" y="632" width="1" height="8" fill="#C0C0C0"/>
<rect x="990" y="631" width="1" height="9" fill="#C0C0C0"/>
<rect x="998" y="631" width="1" height="9" fill="#C0C0C0"/>
<rect x="1006" y="632" width="1" height="8" fill="#C0C0C0"/>
<rect x="1014" y="632" width="1" height="8" fill="#C0C0C0"/>
<rect x="1022" y="637" width="1" height="3" fill="#C0C0C0"/>
<rect x="1030" y="640" width="1" height="1" fill="#C0C0C0"/>
<rect x="1038" y="640" width="1" height="4" fill="#C0C0C0"/>
<rect x="1046" y="640" width="1" height="2" fill="#C0C0C0"/>
<rect x="1054" y="640" width="1" height="1" fill="#C0C0C0"/>
<rect x="1062" y="640" width="1" height="1" fill="#C0C0C0"/>
<rect x="1070" y="640" width="1" height="1" fill="#C0C0C0"/>
<rect x="1078" y="636" width="1" height="4" fill="#C0C0C0"/>
<rect x="1086" y="630" width="1" height="10" fill="#C0C0C0"/>
<rect x="1094" y="627" width="1" height="13" fill="#C0C0C0"/>
<rect x="1102" y="623" width="1" height="17" fill="#C0C0C0"/>
<rect x="1110" y="620" width="1" height="20" fill="#C0C0C0"/>
<rect x="1118" y="616" width="1" height="24" fill="#C0C0C0"/>
<rect x="1126" y="612" width="1" height="28" fill="#C0C0C0"/>
<rect x="1134" y="612" width="1" height="28" fill="#C0C0C0"/>
<rect x="1142" y="615" width="1" height="25" fill="#C0C0C0"/>
<rect x="1150" y="616" width="1" height="24" fill="#C0C0C0"/>
<rect x="1158" y="614" width="1" height="26" fill="#C0C0C0"/>
<rect x="1166" y="610" width="1" height="30" fill="#C0C0C0"/>
<rect x="1174" y="607" width="1" height="33" fill="#C0C0C0"/>
<rect x="1182" y="604" width="1" height="36" fill="#C0C0C0"/>
<rect x="1190" y="600" width="1" height="40" fill="#C0C0C0"/>
<rect x="1198" y="597" width="1" height="43" fill="#C0C0C0"/>
<rect x="1206" y="596" width="1" height="44" fill="#C0C0C0"/>
<rect x="1214" y="597" width="1" height="43" fill="#C0C0C0"/>
<rect x="1222" y="597" width="1" height="43" fill="#C0C0C0"/>
<rect x="1230" y="598" width="1" height="42" fill="#C0C0C0"/>
<rect x="1238" y="597" width="1" height="43" fill="#C0C0C0"/>
<rect x="1246" y="598" width="1" height="42" fill="#C0C0C0"/>
<rect x="1254" y="601" width="1" height="39" fill="#C0C0C0"/>
<rect x="1262" y="601" width="1" height="39" fill="#C0C0C0"/>
<rect x="1270" y="601" width="1" height="39" fill="#C0C0C0"/>
<rect x="1278" y="602" width="1" height="38" fill="#C0C0C0"/>
<rect x="1286" y="602" width="1" height="38" fill="#C0C0C0"/>
<rect x="1294" y="606" width="1" height="34" fill="#C0C0C0"/>
<rect x="1302" y="608" width="1" height="32" fill="#C0C0C0"/>
<rect x="1310" y="607" width="1" height="33" fill="#C0C0C0"/>
<rect x="1318" y="613" width="1" height="27" fill="#C0C0C0"/>
<rect x="1326" y="617" width="1" height="23" fill="#C0C0C0"/>
<rect x="1334" y="628" width="1" height="12" fill="#C0C0C0"/>
<rect x="1342" y="639" width="1" height="1" fill="#C0C0C0"/>
<rect x="1350" y="640" width="1" height="8" fill="#C0C0C0"/>
<rect x="1358" y="640" width="1" height="14" fill="#C0C0C0"/>
<rect x="1366" y="640" width="1" height="24" fill="#C0C0C0"/>
<rect x="1374" y="640" width="1" height="36" fill="#C0C0C0"/>
<rect x="1382" y="640" width="1" height="41" fill="#C0C0C0"/>
<polyline points="0.0,688.8 16.7,700.5 33.5,713.9 50.2,724.0 63.6,728.0 77.0,725.6 90.4,718.9 107.1,703.9 123.8,687.1 140.6,677.1 154.0,672.1 167.4,671.1 180.8,672.7 194.1,675.4 210.9,676.4 224.3,677.1 237.7,673.7 251.0,667.0 264.4,657.0 277.8,647.0 291.2,639.6 304.6,637.6 314.6,639.3 328.0,645.3 341.4,653.7 354.8,662.0 368.2,668.7 381.6,673.1 395.0,680.4 408.4,690.5 421.8,707.2 435.1,722.3 448.5,734.0 461.9,740.7 475.3,744.0 488.7,742.4 502.1,737.3 515.5,729.6 528.9,720.6 542.3,710.6 553.3,700.5 566.7,687.1 583.5,673.7 600.2,662.0 616.9,650.3 633.7,640.3 647.1,634.2 663.8,630.2 683.9,627.6 700.6,624.2 717.4,622.5 730.8,622.5 747.5,625.2 757.5,627.9 777.6,629.2 794.4,627.9 807.7,623.5 824.5,615.2 841.2,607.5 857.9,601.8 874.7,597.8 891.4,595.8 904.8,595.1 918.2,596.8 931.6,601.1 945.0,607.5 958.4,615.8 971.8,624.2 985.1,629.2 998.5,631.2 1015.3,631.9 1032.0,633.6 1048.8,635.9 1065.5,638.6 1082.2,639.3 1095.6,637.9 1100.0,637.0 1113.4,631.9 1126.8,626.9 1140.2,620.9 1153.6,617.5 1166.9,614.5 1180.3,612.5 1193.7,608.5 1207.1,605.8 1220.5,602.4 1233.9,599.1 1247.3,597.4 1260.7,597.4 1274.1,598.4 1287.4,599.1 1300.8,601.1 1314.2,603.5 1324.3,604.5 1334.3,607.8 1344.4,612.5 1354.4,621.2 1364.4,628.6 1374.5,638.6 1382.2,646.0" fill="none" stroke="#FF0000" stroke-width="1" stroke-dasharray="3 3"/>
<line x1="0" y1="799.5" x2="1626" y2="799.5" stroke="#C0C0C0" stroke-width="1" stroke-dasharray="3 3"/>
<line x1="0" y1="846.5" x2="1626" y2="846.5" stroke="#C0C0C0" stroke-width="1" stroke-dasharray="3 3"/>
<line x1="0" y1="902.5" x2="1626" y2="902.5" stroke="#C0C0C0" stroke-width="1" stroke-dasharray="3 3"/>
<polyline points="0.0,883.2 6.0,881.2 14.0,884.5 22.0,881.2 30.0,885.5 38.0,864.4 46.0,860.4 54.0,859.4 62.0,853.1 70.0,855.4 78.0,852.0 86.0,848.0 94.0,838.0 102.0,841.3 110.0,851.0 118.0,850.4 126.0,860.4 134.0,856.4 142.0,861.4 150.0,855.4 158.0,857.1 166.0,859.7 174.0,863.1 182.0,870.5 190.0,857.7 198.0,856.4 206.0,859.7 214.0,854.7 222.0,843.7 230.0,839.7 238.0,832.0 246.0,836.3 254.0,833.0 262.0,825.3 270.0,831.0 278.0,855.4 286.0,854.4 294.0,857.7 302.0,864.4 310.0,866.4 318.0,864.4 326.0,863.1 334.0,850.4 342.0,852.0 350.0,862.8 358.0,859.4 366.0,862.1 374.0,866.4 382.0,874.5 390.0,882.2 398.0,886.5 406.0,887.9 414.0,892.2 422.0,893.9 430.0,866.4 438.0,868.8 446.0,867.8 454.0,867.8 462.0,871.5 470.0,867.8 478.0,876.5 486.0,875.5 494.0,853.7 502.0,853.7 510.0,853.7 518.0,847.7 526.0,850.4 534.0,849.4 542.0,850.4 550.0,853.4 558.0,850.7 566.0,840.3 574.0,841.3 582.0,843.0 590.0,829.3 598.0,832.0 606.0,836.0 614.0,847.0 622.0,845.4 630.0,842.0 638.0,834.3 646.0,838.0 654.0,846.4 662.0,841.3 670.0,835.3 678.0,839.3 686.0,839.3 694.0,838.0 702.0,833.0 710.0,834.3 718.0,836.0 726.0,853.7 734.0,859.4 742.0,859.4 750.0,854.7 758.0,832.0 766.0,829.3 774.0,835.3 782.0,831.0 790.0,827.6 798.0,828.6 806.0,825.9 814.0,824.3 822.0,825.3 830.0,822.9 838.0,819.2 846.0,819.2 854.0,822.9 862.0,821.3 870.0,825.3 878.0,815.9 886.0,814.2 894.0,821.3 902.0,836.3 910.0,846.4 918.0,852.0 926.0,863.1 934.0,861.1 942.0,846.4 950.0,845.4 958.0,842.3 966.0,847.0 974.0,841.3 982.0,839.3 990.0,839.3 998.0,840.3 1006.0,845.4 1014.0,838.7 1022.0,858.4 1030.0,857.4 1038.0,858.4 1046.0,841.7 1054.0,848.0 1062.0,846.0 1070.0,844.4 1078.0,832.6 1086.0,827.6 1094.0,836.0 1102.0,830.3 1110.0,829.3 1118.0,825.9 1126.0,824.3 1134.0,832.0 1142.0,842.0 1150.0,838.0 1158.0,832.6 1166.0,824.3 1174.0,823.6 1182.0,821.9 1190.0,818.6 1198.0,817.6 1206.0,820.9 1214.0,822.9 1222.0,822.9 1230.0,821.3 1238.0,817.6 1246.0,829.3 1254.0,831.3 1262.0,822.9 1270.0,821.9 1278.0,821.3 1286.0,820.3 1294.0,837.0 1302.0,832.6 1310.0,823.6 1318.0,849.4 1326.0,845.4 1334.0,863.8 1342.0,867.8 1350.0,871.5 1358.0,865.4 1366.0,873.8 1374.0,883.2 1382.0,867.1" fill="none" stroke="#1E90FF" stroke-width="1"/>
<rect x="0" y="26" width="1627" height="1" fill="#000"/>
<rect x="1626" y="26" width="1" height="901" fill="#000"/>
<rect x="0" y="579" width="1627" height="1" fill="#000"/>
<rect x="0" y="581" width="1627" height="1" fill="#000"/>
<rect x="0" y="764" width="1627" height="1" fill="#000"/>
<rect x="0" y="766" width="1627" height="1" fill="#000"/>
<rect x="0" y="926" width="1627" height="1" fill="#000"/>
<rect x="1627" y="580" width="1" height="1" fill="#fff"/>
<rect x="1627" y="48" width="2" height="1" fill="#000"/>
<rect x="1627" y="81" width="2" height="1" fill="#000"/>
<rect x="1627" y="114" width="2" height="1" fill="#000"/>
<rect x="1627" y="147" width="2" height="1" fill="#000"/>
<rect x="1627" y="180" width="2" height="1" fill="#000"/>
<rect x="1627" y="213" width="2" height="1" fill="#000"/>
<rect x="1627" y="246" width="2" height="1" fill="#000"/>
<rect x="1627" y="279" width="2" height="1" fill="#000"/>
<rect x="1627" y="312" width="2" height="1" fill="#000"/>
<rect x="1627" y="345" width="2" height="1" fill="#000"/>
<rect x="1627" y="378" width="2" height="1" fill="#000"/>
<rect x="1627" y="411" width="2" height="1" fill="#000"/>
<rect x="1627" y="444" width="2" height="1" fill="#000"/>
<rect x="1627" y="477" width="2" height="1" fill="#000"/>
<rect x="1627" y="510" width="2" height="1" fill="#000"/>
<rect x="1627" y="543" width="2" height="1" fill="#000"/>
<rect x="1627" y="576" width="2" height="1" fill="#000"/>
<rect x="1627" y="640" width="2" height="1" fill="#000"/>
<rect x="1627" y="799" width="2" height="1" fill="#000"/>
<rect x="1627" y="846" width="2" height="1" fill="#000"/>
<rect x="1627" y="902" width="2" height="1" fill="#000"/>
<rect x="1627" y="583" width="2" height="1" fill="#000"/>
<rect x="1627" y="763" width="2" height="1" fill="#000"/>
<rect x="1627" y="768" width="2" height="1" fill="#000"/>
<rect x="62" y="927" width="1" height="3" fill="#000"/>
<rect x="126" y="927" width="1" height="3" fill="#000"/>
<rect x="190" y="927" width="1" height="3" fill="#000"/>
<rect x="254" y="927" width="1" height="3" fill="#000"/>
<rect x="318" y="927" width="1" height="3" fill="#000"/>
<rect x="382" y="927" width="1" height="3" fill="#000"/>
<rect x="446" y="927" width="1" height="3" fill="#000"/>
<rect x="510" y="927" width="1" height="3" fill="#000"/>
<rect x="574" y="927" width="1" height="3" fill="#000"/>
<rect x="638" y="927" width="1" height="3" fill="#000"/>
<rect x="702" y="927" width="1" height="3" fill="#000"/>
<rect x="766" y="927" width="1" height="3" fill="#000"/>
<rect x="830" y="927" width="1" height="3" fill="#000"/>
<rect x="894" y="927" width="1" height="3" fill="#000"/>
<rect x="958" y="927" width="1" height="3" fill="#000"/>
<rect x="1022" y="927" width="1" height="3" fill="#000"/>
<rect x="1086" y="927" width="1" height="3" fill="#000"/>
<rect x="1150" y="927" width="1" height="3" fill="#000"/>
<rect x="1214" y="927" width="1" height="3" fill="#000"/>
<rect x="1278" y="927" width="1" height="3" fill="#000"/>
<rect x="1342" y="927" width="1" height="3" fill="#000"/>
</g>
<g font-size="9" fill="#000">
<text x="1632.5" y="51.7" font-size="9" fill="#000" textLength="32.2" lengthAdjust="spacingAndGlyphs">22808.5</text>
<text x="1632.5" y="84.7" font-size="9" fill="#000" textLength="32.2" lengthAdjust="spacingAndGlyphs">22553.5</text>
<text x="1632.5" y="117.7" font-size="9" fill="#000" textLength="32.2" lengthAdjust="spacingAndGlyphs">22298.5</text>
<text x="1632.5" y="150.7" font-size="9" fill="#000" textLength="32.2" lengthAdjust="spacingAndGlyphs">22051.0</text>
<text x="1632.5" y="183.7" font-size="9" fill="#000" textLength="32.2" lengthAdjust="spacingAndGlyphs">21796.0</text>
<text x="1632.5" y="216.7" font-size="9" fill="#000" textLength="32.2" lengthAdjust="spacingAndGlyphs">21541.0</text>
<text x="1632.5" y="249.7" font-size="9" fill="#000" textLength="32.2" lengthAdjust="spacingAndGlyphs">21286.0</text>
<text x="1632.5" y="282.7" font-size="9" fill="#000" textLength="32.2" lengthAdjust="spacingAndGlyphs">21031.0</text>
<text x="1632.5" y="315.7" font-size="9" fill="#000" textLength="32.2" lengthAdjust="spacingAndGlyphs">20783.5</text>
<text x="1632.5" y="348.7" font-size="9" fill="#000" textLength="32.2" lengthAdjust="spacingAndGlyphs">20528.5</text>
<text x="1632.5" y="381.7" font-size="9" fill="#000" textLength="32.2" lengthAdjust="spacingAndGlyphs">20273.5</text>
<text x="1632.5" y="414.7" font-size="9" fill="#000" textLength="32.2" lengthAdjust="spacingAndGlyphs">20018.5</text>
<text x="1632.5" y="447.7" font-size="9" fill="#000" textLength="32.2" lengthAdjust="spacingAndGlyphs">19771.0</text>
<text x="1632.5" y="480.7" font-size="9" fill="#000" textLength="32.2" lengthAdjust="spacingAndGlyphs">19516.0</text>
<text x="1632.5" y="513.7" font-size="9" fill="#000" textLength="32.2" lengthAdjust="spacingAndGlyphs">19261.0</text>
<text x="1632.5" y="546.7" font-size="9" fill="#000" textLength="32.2" lengthAdjust="spacingAndGlyphs">19006.0</text>
<text x="1632.5" y="579.7" font-size="9" fill="#000" textLength="32.2" lengthAdjust="spacingAndGlyphs">18758.5</text>
<text x="1630" y="592" font-size="9" fill="#000" textLength="27.5" lengthAdjust="spacingAndGlyphs">301.69</text>
<text x="1630" y="643.2" font-size="9" fill="#000" textLength="17.5" lengthAdjust="spacingAndGlyphs">0.00</text>
<text x="1630" y="760.8" font-size="9" fill="#000" textLength="30.5" lengthAdjust="spacingAndGlyphs">-644.97</text>
<text x="1630" y="777" font-size="9" fill="#000" textLength="14.5" lengthAdjust="spacingAndGlyphs">100</text>
<text x="1630" y="802.7" font-size="9" fill="#000" textLength="9.8" lengthAdjust="spacingAndGlyphs">80</text>
<text x="1630" y="849.7" font-size="9" fill="#000" textLength="9.8" lengthAdjust="spacingAndGlyphs">50</text>
<text x="1630" y="905.7" font-size="9" fill="#000" textLength="9.8" lengthAdjust="spacingAndGlyphs">15</text>
<text x="1630" y="922.7" font-size="9" fill="#000" textLength="4.8" lengthAdjust="spacingAndGlyphs">0</text>
</g>
<rect x="1628" y="201" width="41" height="11" fill="#FF0000" shape-rendering="crispEdges"/>
<text x="1632.5" y="210" font-size="9" fill="#fff" textLength="32.2" lengthAdjust="spacingAndGlyphs">21586.0</text>
<rect x="1628" y="226" width="41" height="11" fill="#FF0000" shape-rendering="crispEdges"/>
<text x="1632.5" y="235" font-size="9" fill="#fff" textLength="32.2" lengthAdjust="spacingAndGlyphs">21394.4</text>
<rect x="1628" y="244" width="41" height="11" fill="#32CD32" shape-rendering="crispEdges"/>
<text x="1632.5" y="253" font-size="9" fill="#fff" textLength="32.2" lengthAdjust="spacingAndGlyphs">21256.5</text>
<rect x="1628" y="261" width="41" height="11" fill="#000000" shape-rendering="crispEdges"/>
<text x="1632.5" y="270" font-size="9" fill="#fff" textLength="32.2" lengthAdjust="spacingAndGlyphs">21132.5</text>
<rect x="1628" y="287" width="41" height="11" fill="#0000FF" shape-rendering="crispEdges"/>
<text x="1632.5" y="296" font-size="9" fill="#fff" textLength="32.2" lengthAdjust="spacingAndGlyphs">20927.1</text>
<rect x="1628" y="314" width="41" height="11" fill="#0000FF" shape-rendering="crispEdges"/>
<text x="1632.5" y="323" font-size="9" fill="#fff" textLength="32.2" lengthAdjust="spacingAndGlyphs">20720.3</text>
<text x="-2.5" y="938.7" font-size="9" fill="#000" letter-spacing="0.25">24 Oct 2018</text>
<text x="61.5" y="938.7" font-size="9" fill="#000" letter-spacing="0.25">2 Nov 2018</text>
<text x="125.5" y="938.7" font-size="9" fill="#000" letter-spacing="0.25">12 Nov 2018</text>
<text x="189.5" y="938.7" font-size="9" fill="#000" letter-spacing="0.25">21 Nov 2018</text>
<text x="253.5" y="938.7" font-size="9" fill="#000" letter-spacing="0.25">30 Nov 2018</text>
<text x="317.5" y="938.7" font-size="9" fill="#000" letter-spacing="0.25">10 Dec 2018</text>
<text x="381.5" y="938.7" font-size="9" fill="#000" letter-spacing="0.25">19 Dec 2018</text>
<text x="445.5" y="938.7" font-size="9" fill="#000" letter-spacing="0.25">28 Dec 2018</text>
<text x="509.5" y="938.7" font-size="9" fill="#000" letter-spacing="0.25">7 Jan 2019</text>
<text x="573.5" y="938.7" font-size="9" fill="#000" letter-spacing="0.25">16 Jan 2019</text>
<text x="637.5" y="938.7" font-size="9" fill="#000" letter-spacing="0.25">25 Jan 2019</text>
<text x="701.5" y="938.7" font-size="9" fill="#000" letter-spacing="0.25">4 Feb 2019</text>
<text x="765.5" y="938.7" font-size="9" fill="#000" letter-spacing="0.25">13 Feb 2019</text>
<text x="829.5" y="938.7" font-size="9" fill="#000" letter-spacing="0.25">22 Feb 2019</text>
<text x="893.5" y="938.7" font-size="9" fill="#000" letter-spacing="0.25">4 Mar 2019</text>
<text x="957.5" y="938.7" font-size="9" fill="#000" letter-spacing="0.25">13 Mar 2019</text>
<text x="1021.5" y="938.7" font-size="9" fill="#000" letter-spacing="0.25">22 Mar 2019</text>
<text x="1085.5" y="938.7" font-size="9" fill="#000" letter-spacing="0.25">1 Apr 2019</text>
<text x="1149.5" y="938.7" font-size="9" fill="#000" letter-spacing="0.25">10 Apr 2019</text>
<text x="1213.5" y="938.7" font-size="9" fill="#000" letter-spacing="0.25">19 Apr 2019</text>
<text x="1277.5" y="938.7" font-size="9" fill="#000" letter-spacing="0.25">29 Apr 2019</text>
<text x="1341.5" y="938.7" font-size="9" fill="#000" letter-spacing="0.25">8 May 2019</text>
<polygon points="1,37 8,37 4.5,32" fill="#000"/>
<text x="12.9" y="38.3" font-size="9" fill="#000" textLength="206.6" lengthAdjust="spacingAndGlyphs">JPN225-,Daily  20757.5 21172.5 20742.5 21132.5</text>
<text x="2.5" y="593.6" font-size="9" fill="#000" textLength="128" lengthAdjust="spacingAndGlyphs">MACD(12,26,9) -215.76 -32.37</text>
<text x="2.5" y="779" font-size="9" fill="#000" textLength="67" lengthAdjust="spacingAndGlyphs">RSI(14) 37.5989</text>
<text class="note" x="1050.5" y="284" font-size="32" fill="#00FF00" style="text-shadow:1px 1px 0 #0a4a0a"><tspan letter-spacing="0.8">多空转折点</tspan><tspan x="1214.5" font-size="33.2" textLength="89" lengthAdjust="spacingAndGlyphs">21256</tspan></text>
<g>
<rect x="1" y="46" width="219" height="64" fill="#fff"/>
<rect x="1" y="46" width="52" height="25" fill="url(#gTop)"/>
<rect x="168" y="46" width="52" height="25" fill="url(#gTop)"/>
<rect x="1" y="70" width="109" height="40" fill="url(#gBot)"/>
<rect x="112" y="70" width="108" height="40" fill="url(#gBot)"/>
<rect x="5" y="69" width="44" height="1" fill="#a81010"/>
<rect x="5" y="70" width="44" height="1" fill="#f06060"/>
<rect x="172" y="69" width="44" height="1" fill="#a81010"/>
<rect x="172" y="70" width="44" height="1" fill="#f06060"/>
<path d="M1.5,70 V46.5 H52.5 V70" fill="none" stroke="#cf2222" stroke-width="1" shape-rendering="crispEdges"/>
<path d="M168.5,70 V46.5 H219.5 V70" fill="none" stroke="#cf2222" stroke-width="1" shape-rendering="crispEdges"/>
<rect x="53" y="70" width="57" height="1" fill="#cc2020"/>
<rect x="112" y="70" width="56" height="1" fill="#cc2020"/>
<rect x="55.5" y="46.5" width="110" height="21" fill="#fff" stroke="#a8a8a8" stroke-width="1" shape-rendering="crispEdges"/>
<rect x="56" y="47" width="20" height="20" fill="#e8e8e8"/>
<rect x="76" y="47" width="1" height="20" fill="#b8b8b8"/>
<rect x="145" y="47" width="20" height="20" fill="#e8e8e8"/>
<rect x="144" y="47" width="1" height="20" fill="#b8b8b8"/>
<polygon points="63,55.3 68.6,55.3 65.8,58.5" fill="#000"/>
<polygon points="151.6,58.5 157.2,58.5 154.4,55.3" fill="#000"/>
<text x="140.6" y="60.9" font-size="12.5" fill="#000" text-anchor="end">1.00</text>
<text x="13.4" y="62" font-size="12" fill="#fff" textLength="25.3" lengthAdjust="spacingAndGlyphs">SELL</text>
<text x="182" y="62" font-size="12" fill="#fff" textLength="23.5" lengthAdjust="spacingAndGlyphs">BUY</text>
<text x="17" y="101.2" font-size="12" fill="#fff" textLength="33.5" lengthAdjust="spacingAndGlyphs" font-weight="bold">21131</text>
<text x="127" y="101.2" font-size="12" fill="#fff" textLength="33.5" lengthAdjust="spacingAndGlyphs" font-weight="bold">21154</text>
<text x="53.6" y="101.4" font-size="33.5" fill="#fff" textLength="26" lengthAdjust="spacingAndGlyphs">.0</text>
<text x="163.6" y="101.4" font-size="33.5" fill="#fff" textLength="26" lengthAdjust="spacingAndGlyphs">.0</text>
</g>
<g shape-rendering="crispEdges">
<rect x="1672" y="24" width="1" height="924" fill="#e4e4e4"/>
<rect x="0" y="947" width="1673" height="1" fill="#e6e6e6"/>
<rect x="0" y="949" width="176" height="1" fill="#000"/>
<rect x="176" y="949" width="98" height="1" fill="#f2f2f2"/>
<rect x="274" y="949" width="1399" height="1" fill="#000"/>
</g>
<g id="toolbar">
<defs>
<linearGradient id="gGreen" x1="0" y1="0" x2="0" y2="1"><stop offset="0" stop-color="#6be86b"/><stop offset="1" stop-color="#0fae0f"/></linearGradient>
<linearGradient id="gGold" x1="0" y1="0" x2="1" y2="1"><stop offset="0" stop-color="#fbe36a"/><stop offset="0.5" stop-color="#e9b81c"/><stop offset="1" stop-color="#b07a10"/></linearGradient>
<linearGradient id="gBlue" x1="0" y1="0" x2="1" y2="1"><stop offset="0" stop-color="#5ab8ff"/><stop offset="1" stop-color="#1478e0"/></linearGradient>
<linearGradient id="gCloud" x1="0" y1="0" x2="0" y2="1"><stop offset="0" stop-color="#ffffff"/><stop offset="1" stop-color="#b9c8e6"/></linearGradient>
<radialGradient id="gClock" cx="0.4" cy="0.35" r="0.7"><stop offset="0" stop-color="#ffffff"/><stop offset="1" stop-color="#cfe2f8"/></radialGradient>
<linearGradient id="gLens" x1="0" y1="0" x2="1" y2="1"><stop offset="0" stop-color="#e8f4ff"/><stop offset="1" stop-color="#9cc8f4"/></linearGradient>
<linearGradient id="gYel" x1="0" y1="0" x2="1" y2="1"><stop offset="0" stop-color="#fff4a0"/><stop offset="1" stop-color="#f0b400"/></linearGradient>
</defs>
<rect x="0" y="0" width="1673" height="22" fill="#f0f0f0" shape-rendering="crispEdges"/>
<rect x="0" y="22" width="1673" height="1" fill="#a6a6a6" shape-rendering="crispEdges"/>
<rect x="0" y="23" width="1672" height="1" fill="#646464" shape-rendering="crispEdges"/>
<rect x="262" y="0" width="24" height="22" fill="url(#chk)" shape-rendering="crispEdges"/>
<rect x="414" y="0" width="24" height="22" fill="url(#chk)" shape-rendering="crispEdges"/>
<rect x="442" y="0" width="24" height="22" fill="url(#chk)" shape-rendering="crispEdges"/>
<rect x="602" y="0" width="24" height="22" fill="url(#chk)" shape-rendering="crispEdges"/>
<rect x="1076" y="0" width="24" height="22" fill="url(#chk)" shape-rendering="crispEdges"/>
<rect x="223" y="1" width="1" height="20" fill="#a0a0a0" shape-rendering="crispEdges"/>
<rect x="261" y="1" width="1" height="20" fill="#a0a0a0" shape-rendering="crispEdges"/>
<rect x="318" y="1" width="1" height="20" fill="#a0a0a0" shape-rendering="crispEdges"/>
<rect x="408" y="1" width="1" height="20" fill="#a0a0a0" shape-rendering="crispEdges"/>
<rect x="413" y="1" width="1" height="20" fill="#a0a0a0" shape-rendering="crispEdges"/>
<rect x="441" y="1" width="1" height="20" fill="#a0a0a0" shape-rendering="crispEdges"/>
<rect x="470" y="1" width="1" height="20" fill="#a0a0a0" shape-rendering="crispEdges"/>
<rect x="591" y="1" width="1" height="20" fill="#a0a0a0" shape-rendering="crispEdges"/>
<rect x="601" y="1" width="1" height="20" fill="#a0a0a0" shape-rendering="crispEdges"/>
<rect x="658" y="1" width="1" height="20" fill="#a0a0a0" shape-rendering="crispEdges"/>
<rect x="897" y="1" width="1" height="20" fill="#a0a0a0" shape-rendering="crispEdges"/>
<rect x="1075" y="1" width="1" height="20" fill="#a0a0a0" shape-rendering="crispEdges"/>
<rect x="1158" y="1" width="1" height="20" fill="#a0a0a0" shape-rendering="crispEdges"/>
<rect x="226" y="2" width="3" height="1" fill="#b4b4b4" shape-rendering="crispEdges"/>
<rect x="226" y="4" width="3" height="1" fill="#b4b4b4" shape-rendering="crispEdges"/>
<rect x="226" y="6" width="3" height="1" fill="#b4b4b4" shape-rendering="crispEdges"/>
<rect x="226" y="8" width="3" height="1" fill="#b4b4b4" shape-rendering="crispEdges"/>
<rect x="226" y="10" width="3" height="1" fill="#b4b4b4" shape-rendering="crispEdges"/>
<rect x="226" y="12" width="3" height="1" fill="#b4b4b4" shape-rendering="crispEdges"/>
<rect x="226" y="14" width="3" height="1" fill="#b4b4b4" shape-rendering="crispEdges"/>
<rect x="226" y="16" width="3" height="1" fill="#b4b4b4" shape-rendering="crispEdges"/>
<rect x="226" y="18" width="3" height="1" fill="#b4b4b4" shape-rendering="crispEdges"/>
<rect x="595" y="2" width="3" height="1" fill="#b4b4b4" shape-rendering="crispEdges"/>
<rect x="595" y="4" width="3" height="1" fill="#b4b4b4" shape-rendering="crispEdges"/>
<rect x="595" y="6" width="3" height="1" fill="#b4b4b4" shape-rendering="crispEdges"/>
<rect x="595" y="8" width="3" height="1" fill="#b4b4b4" shape-rendering="crispEdges"/>
<rect x="595" y="10" width="3" height="1" fill="#b4b4b4" shape-rendering="crispEdges"/>
<rect x="595" y="12" width="3" height="1" fill="#b4b4b4" shape-rendering="crispEdges"/>
<rect x="595" y="14" width="3" height="1" fill="#b4b4b4" shape-rendering="crispEdges"/>
<rect x="595" y="16" width="3" height="1" fill="#b4b4b4" shape-rendering="crispEdges"/>
<rect x="595" y="18" width="3" height="1" fill="#b4b4b4" shape-rendering="crispEdges"/>
<rect x="901" y="2" width="3" height="1" fill="#b4b4b4" shape-rendering="crispEdges"/>
<rect x="901" y="4" width="3" height="1" fill="#b4b4b4" shape-rendering="crispEdges"/>
<rect x="901" y="6" width="3" height="1" fill="#b4b4b4" shape-rendering="crispEdges"/>
<rect x="901" y="8" width="3" height="1" fill="#b4b4b4" shape-rendering="crispEdges"/>
<rect x="901" y="10" width="3" height="1" fill="#b4b4b4" shape-rendering="crispEdges"/>
<rect x="901" y="12" width="3" height="1" fill="#b4b4b4" shape-rendering="crispEdges"/>
<rect x="901" y="14" width="3" height="1" fill="#b4b4b4" shape-rendering="crispEdges"/>
<rect x="901" y="16" width="3" height="1" fill="#b4b4b4" shape-rendering="crispEdges"/>
<rect x="901" y="18" width="3" height="1" fill="#b4b4b4" shape-rendering="crispEdges"/>
<path d="M0,2.5 H6 L8.5,5 V14.5 H0 Z" fill="#fdfdfd" stroke="#808080" stroke-width="1"/>
<path d="M6,2.5 V5 H8.5" fill="none" stroke="#808080" stroke-width="1"/>
<path d="M0,6.5 H4.5 M0,9.5 H4.5" stroke="#8c8c8c" stroke-width="1"/>
<path d="M5.2,8.8 H8.9 V12.4 H12.7 V15.6 H8.9 V19.6 H5.2 V15.6 H1.4 V12.4 H5.2 Z" fill="url(#gGreen)" stroke="#0a9a0a" stroke-width="0.8"/>
<text x="16" y="13" font-size="12" fill="#000" textLength="36" lengthAdjust="spacingAndGlyphs">新订单</text>
<path d="M70.5,3.1 L80,11.6 L71.8,17.8 L64,12 C66.5,9.5 68.5,6.5 70.5,3.1 Z" fill="url(#gGold)" stroke="#a8720c" stroke-width="0.8"/>
<path d="M64.2,12.3 L71.8,17.4 L79.6,11.9" fill="none" stroke="#9a6408" stroke-width="1.5"/>
<path d="M65,11.6 L71.8,16 L78.6,11.2" fill="none" stroke="#f7e7a8" stroke-width="0.8"/>
<path d="M94.5,3 L101,2 L105.2,3.8 L105.2,11.5 L98,12.2 L94.5,10.5 Z" fill="url(#gBlue)" stroke="#1d6fd0" stroke-width="0.6"/>
<path d="M97.5,4.2 L104.3,4.8 V10.6 L97.5,11 Z" fill="#dff0ff"/>
<path d="M99,6.5 H103" stroke="#3a8ae6" stroke-width="1"/>
<path d="M94.2,17.3 C91.6,17.3 91.4,13.6 94.3,13.4 C94.6,11.2 97.8,10.6 99,12.3 C100.6,10.2 104.3,11 104.6,13.3 C108.3,13.2 108.6,17.3 105.6,17.3 Z" fill="url(#gCloud)" stroke="#4f7ccc" stroke-width="0.9"/>
<g fill="none">
<circle cx="128.2" cy="10" r="7.3" stroke-width="1.2" stroke="#a9c3ee"/>
<circle cx="128.2" cy="10" r="4.9" stroke-width="1.2" stroke="#6f9ae2"/>
<circle cx="128.2" cy="10" r="2.6" stroke-width="1" stroke="#dfe9fa"/>
</g>
<path d="M128.2,10 L128.2,17.6 A7.6,7.6 0 0 0 135.7,10.6 Z" fill="#cdeccd" opacity="0.9"/>
<path d="M128.6,17.4 A7.4,7.4 0 0 0 135.6,10.4" fill="none" stroke="#3fae3f" stroke-width="1.6"/>
<path d="M128.6,15 A5,5 0 0 0 133.2,10.4" fill="none" stroke="#8fd08f" stroke-width="1"/>
<circle cx="128.2" cy="10" r="1.9" fill="#2a5fd4"/>
<path d="M128.4,10.5 V17.6" stroke="#1aa01a" stroke-width="1.3"/>
<path d="M147.6,9.3 L162.8,8.8 L156.5,17.6 L154,17.6 Z" fill="url(#gYel)" stroke="#d9a400" stroke-width="0.6"/>
<ellipse cx="155" cy="7.6" rx="7.9" ry="2.4" fill="#4f9fe0" stroke="#2f7fc8" stroke-width="0.6"/>
<ellipse cx="155" cy="5" rx="4" ry="3" fill="#6db6ee" stroke="#2f7fc8" stroke-width="0.5"/>
<circle cx="159.5" cy="13.7" r="4.1" fill="#e01e10" stroke="#b01008" stroke-width="0.5"/>
<rect x="158" y="12.2" width="3" height="3" fill="#fff"/>
<text x="168.8" y="13" font-size="12" fill="#000" textLength="46.4" lengthAdjust="spacingAndGlyphs">自动交易</text>
<path d="M241.5,4 V18 M239,15.5 H252.5 M239.8,6.5 L241.5,4 L243.2,6.5 M250.5,13.8 L252.8,15.5 L250.5,17.2" fill="none" stroke="#505050" stroke-width="1.1"/>
<path d="M247.5,5.5 V13.5 M247.5,6 H250 M245.5,13 H247.5" fill="none" stroke="#1e9a1e" stroke-width="1.4"/>
<path d="M269.5,4 V18 M267,15.5 H280.5 M267.8,6.5 L269.5,4 L271.2,6.5 M278.5,13.8 L280.8,15.5 L278.5,17.2" fill="none" stroke="#505050" stroke-width="1.1"/>
<rect x="273.5" y="5" width="3.6" height="7" fill="#2fc02f" stroke="#148a14" stroke-width="0.8"/>
<path d="M275.3,2.5 V5 M275.3,12 V14" stroke="#148a14" stroke-width="1"/>
<path d="M298.0,4 V18 M295.5,15.5 H309.0 M296.3,6.5 L298.0,4 L299.7,6.5 M307.0,13.8 L309.3,15.5 L307.0,17.2" fill="none" stroke="#505050" stroke-width="1.1"/>
<path d="M296.5,13 C299,8 301,6.5 303,7 C305,7.5 306.5,9.5 308.5,11.5" fill="none" stroke="#1e9a1e" stroke-width="1.2"/>
<path d="M336.5,11 L342,16.8" stroke="#c9a227" stroke-width="3" stroke-linecap="round"/>
<path d="M336.5,11 L342,16.8" stroke="#f1d66a" stroke-width="1.2" stroke-linecap="round"/>
<circle cx="333" cy="8" r="5.3" fill="url(#gLens)" stroke="#2f7fd6" stroke-width="1.3"/>
<path d="M330.2,8 H335.8" stroke="#1f6fd0" stroke-width="1.8"/>
<path d="M333,5.2 V10.8" stroke="#1f6fd0" stroke-width="1.8"/>
<path d="M364.5,11 L370,16.8" stroke="#c9a227" stroke-width="3" stroke-linecap="round"/>
<path d="M364.5,11 L370,16.8" stroke="#f1d66a" stroke-width="1.2" stroke-linecap="round"/>
<circle cx="361" cy="8" r="5.3" fill="url(#gLens)" stroke="#2f7fd6" stroke-width="1.3"/>
<path d="M358.2,8 H363.8" stroke="#1f6fd0" stroke-width="1.8"/>
<rect x="383" y="2" width="7.6" height="7.6" fill="#3fae2a" stroke="#2a8a1a" stroke-width="0.5"/>
<rect x="384.2" y="4.6" width="5.2" height="3.6" fill="#fff" opacity="0.9"/>
<rect x="384.2" y="5.6" width="5.2" height="0.9" fill="#3fae2a"/>
<rect x="391.5" y="2" width="7.6" height="7.6" fill="#2a62d8" stroke="#1a48b0" stroke-width="0.5"/>
<rect x="392.7" y="4.6" width="5.2" height="3.6" fill="#fff" opacity="0.9"/>
<rect x="392.7" y="5.6" width="5.2" height="0.9" fill="#2a62d8"/>
<rect x="383" y="10.3" width="7.6" height="7.6" fill="#2a62d8" stroke="#1a48b0" stroke-width="0.5"/>
<rect x="384.2" y="12.9" width="5.2" height="3.6" fill="#fff" opacity="0.9"/>
<rect x="384.2" y="13.9" width="5.2" height="0.9" fill="#2a62d8"/>
<rect x="391.5" y="10.3" width="7.6" height="7.6" fill="#3fae2a" stroke="#2a8a1a" stroke-width="0.5"/>
<rect x="392.7" y="12.9" width="5.2" height="3.6" fill="#fff" opacity="0.9"/>
<rect x="392.7" y="13.9" width="5.2" height="0.9" fill="#3fae2a"/>
<path d="M421.5,4 V18 M419,15.5 H432.5 M419.8,6.5 L421.5,4 L423.2,6.5 M430.5,13.8 L432.8,15.5 L430.5,17.2" fill="none" stroke="#505050" stroke-width="1.1"/>
<path d="M427.5,6.8 L431,9.3 L427.5,11.8 Z" fill="#dff5df" stroke="#1e9a1e" stroke-width="1.1"/>
<path d="M449.5,4 V18 M447,15.5 H460.5 M447.8,6.5 L449.5,4 L451.2,6.5 M458.5,13.8 L460.8,15.5 L458.5,17.2" fill="none" stroke="#505050" stroke-width="1.1"/>
<path d="M455.5,4 V14" stroke="#2a6fd0" stroke-width="1.1"/>
<path d="M461,9.3 H457 M458.8,7.3 L456.6,9.3 L458.8,11.3" fill="none" stroke="#d8421a" stroke-width="1.2"/>
<path d="M480.5,3 H487 L490,6 V14.5 H480.5 Z" fill="#fdfdfd" stroke="#8a8a8a" stroke-width="0.9"/>
<path d="M487,3 V6 H490" fill="none" stroke="#8a8a8a" stroke-width="0.9"/>
<path d="M484,6 C482.5,6 483,13 481.8,13 M482.5,9 H485" fill="none" stroke="#666" stroke-width="0.9"/>
<path d="M487.3,8.6 H490.7 V12.2 H494.5 V15.6 H490.7 V19.4 H487.3 V15.6 H483.5 V12.2 H487.3 Z" fill="url(#gGreen)" stroke="#0a9a0a" stroke-width="0.8"/>
<polygon points="501.8,9 507.8,9 504.8,12.4" fill="#000"/>
<circle cx="526" cy="10" r="7.4" fill="#2a6fe0" stroke="#1a4fb8" stroke-width="0.8"/>
<circle cx="526" cy="10" r="5.2" fill="url(#gClock)"/>
<path d="M526,6.3 V10.2 H529" fill="none" stroke="#333" stroke-width="1"/>
<polygon points="540.5,9 546.5,9 543.5,12.4" fill="#000"/>
<rect x="557.5" y="3.5" width="15.5" height="13" fill="#fff" stroke="#2a62c8" stroke-width="1"/>
<rect x="557.5" y="3.5" width="15.5" height="2.5" fill="#3a7ae0"/>
<path d="M559.5,9.5 L562,8.6 L564.5,9.3 L567,7.6 L569,8.4 L571,7.2" fill="none" stroke="#b03a1a" stroke-width="1.1"/>
<path d="M559.5,14.2 L562,12.8 L564,14 L566.5,12 L568.5,13.6 L571,12.5" fill="none" stroke="#1e9a1e" stroke-width="1.1"/>
<polygon points="579.5,9 585.5,9 582.5,12.4" fill="#000"/>
<path d="M608.8,3.4 L608.8,14.6 L611.3,12.3 L613.6,17 L615.6,16 L613.3,11.6 L617,11.4 Z" fill="#333"/>
<path d="M641.5,2.8 V17.8 M634,10.3 H649" stroke="#505050" stroke-width="1.1" shape-rendering="crispEdges"/>
<rect x="641" y="10" width="1" height="1" fill="#f0f0f0"/>
<path d="M675.5,4 V17" stroke="#505050" stroke-width="1.2"/>
<path d="M698,10.3 H710" stroke="#505050" stroke-width="1.2"/>
<path d="M725.8,17.2 L738.2,4.8" stroke="#505050" stroke-width="1.2"/>
<path d="M752,14 L765,5 M753,16.5 L766,7.5 M752.5,11.5 L764,3.5" stroke="#505050" stroke-width="0.9" fill="none"/>
<path d="M755,9 V17 M758.5,6.5 V15 M762,4 V12.5" stroke="#505050" stroke-width="0.8"/>
<text x="762.5" y="19" font-size="6.5" font-weight="bold" fill="#333">E</text>
<path d="M781,3.5 H794" stroke="#505050" stroke-width="1" stroke-dasharray="1 1" shape-rendering="crispEdges"/>
<path d="M781,6.5 H794" stroke="#505050" stroke-width="1" stroke-dasharray="1 1" shape-rendering="crispEdges"/>
<path d="M781,9.5 H794" stroke="#505050" stroke-width="1" stroke-dasharray="1 1" shape-rendering="crispEdges"/>
<path d="M781,12.5 H794" stroke="#505050" stroke-width="1" stroke-dasharray="1 1" shape-rendering="crispEdges"/>
<path d="M781,14.5 H794" stroke="#505050" stroke-width="1" stroke-dasharray="1 1" shape-rendering="crispEdges"/>
<text x="790.5" y="19" font-size="6.5" font-weight="bold" fill="#333">F</text>
<text x="811.6" y="14.8" font-size="12.5" font-weight="bold" fill="#555">A</text>
<rect x="838.5" y="4" width="11.5" height="12.5" fill="none" stroke="#505050" stroke-width="1" stroke-dasharray="1 1" shape-rendering="crispEdges"/>
<text x="840.3" y="14.6" font-size="11.5" font-weight="bold" fill="#555">T</text>
<path d="M865.5,7.2 L869,3.8 L872.5,7.2 Z M872,13.8 L875.5,17.2 L879,13.8 Z" fill="#444"/>
<path d="M867.5,10 L870,12.6 L875,6.5" fill="none" stroke="#444" stroke-width="1.4"/>
<path d="M872.5,9 L877,9" stroke="#444" stroke-width="1.2"/>
<polygon points="885.5,9 891.5,9 888.5,12.4" fill="#000"/>
<text x="912.4" y="13.7" font-size="10" fill="#505050" textLength="13" lengthAdjust="spacingAndGlyphs">M1</text>
<text x="940.8" y="13.7" font-size="10" fill="#505050" textLength="12.8" lengthAdjust="spacingAndGlyphs">M5</text>
<text x="966.7" y="13.7" font-size="10" fill="#505050" textLength="17.6" lengthAdjust="spacingAndGlyphs">M15</text>
<text x="994.4" y="13.7" font-size="10" fill="#505050" textLength="17.6" lengthAdjust="spacingAndGlyphs">M30</text>
<text x="1025.4" y="13.7" font-size="10" fill="#505050" textLength="12" lengthAdjust="spacingAndGlyphs">H1</text>
<text x="1052.5" y="13.7" font-size="10" fill="#505050" textLength="12.4" lengthAdjust="spacingAndGlyphs">H4</text>
<text x="1081.5" y="13.7" font-size="10" fill="#505050" textLength="12" lengthAdjust="spacingAndGlyphs">D1</text>
<text x="1109.3" y="13.7" font-size="10" fill="#505050" textLength="13.7" lengthAdjust="spacingAndGlyphs">W1</text>
<text x="1135.8" y="13.7" font-size="10" fill="#505050" textLength="14.2" lengthAdjust="spacingAndGlyphs">MN</text>
<circle cx="1628" cy="7.6" r="3.6" fill="#e6f0ff" stroke="#2a5fd8" stroke-width="1.6"/>
<path d="M1625.3,10.4 L1621,15" stroke="#2a5fd8" stroke-width="2.2" stroke-linecap="round"/>
<path d="M1653,4.2 C1653,2.2 1666.6,2.2 1666.6,6.5 C1666.6,9 1664.5,10.4 1663.2,10.5 L1664.5,13.4 L1660.3,10.8 C1656,10.8 1653,8.6 1653,4.2 Z" fill="#f4f4f4" stroke="#a9a9a9" stroke-width="0.9"/>
<path d="M1647.2,8.8 C1647.2,5 1659.8,5 1659.8,9.2 C1659.8,12.4 1655.6,13.2 1652.8,13 L1649.6,15.8 L1650.4,12.6 C1648.5,12 1647.2,10.8 1647.2,8.8 Z" fill="#fafafa" stroke="#a0a0a0" stroke-width="0.9"/>
</g>
</svg>
</body></html>
